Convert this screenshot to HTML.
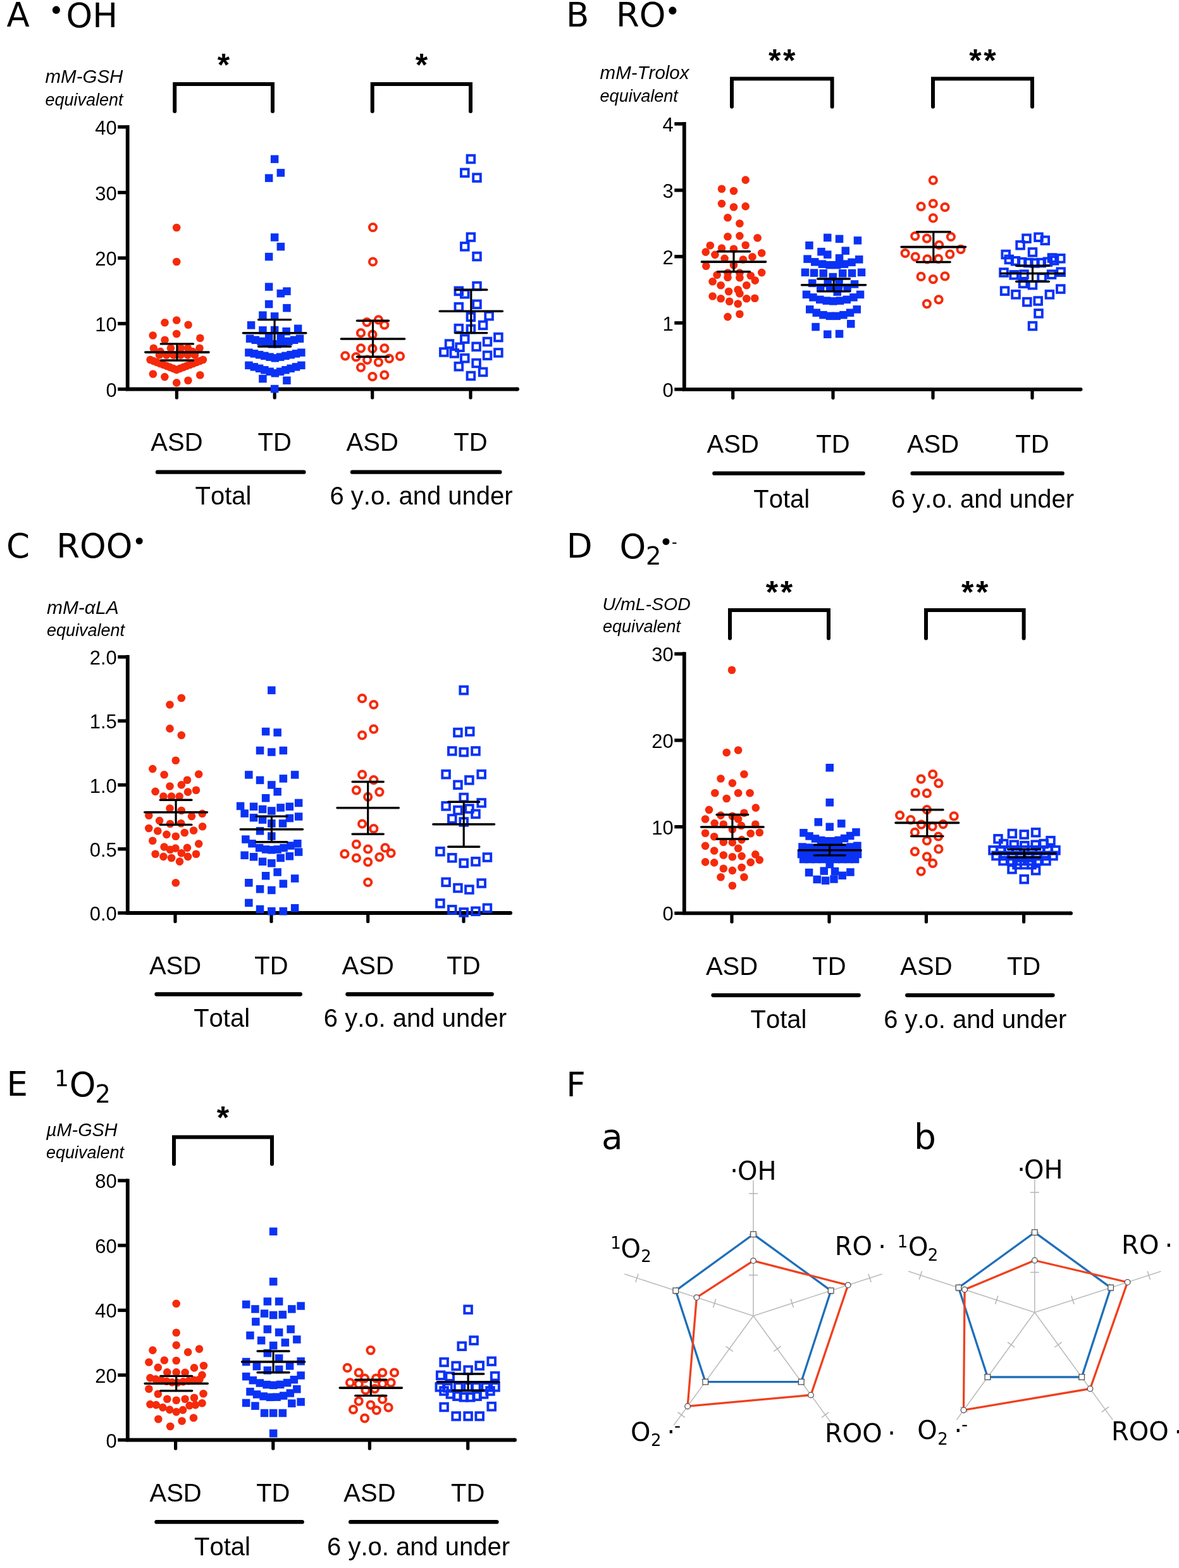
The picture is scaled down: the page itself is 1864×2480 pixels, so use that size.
<!DOCTYPE html>
<html><head><meta charset="utf-8"><title>Figure</title>
<style>html,body{margin:0;padding:0;background:#fff;} svg{display:block;} text{font-kerning:none;}</style>
</head><body>
<svg width="1864" height="2480" viewBox="0 0 1864 2480">
<rect width="1864" height="2480" fill="#fff"/>
<path d="M201.7,197.9 L201.7,615.5 L818.1,615.5" fill="none" stroke="#000" stroke-width="5.8" stroke-linejoin="miter"/>
<line x1="818.0" y1="615.5" x2="818.1" y2="615.5" stroke="#000" stroke-width="5.8" stroke-linecap="round"/>
<line x1="186.2" y1="615.5" x2="201.7" y2="615.5" stroke="#000" stroke-width="5.4" stroke-linecap="butt"/>
<text x="184.7" y="627.5" font-size="31" text-anchor="end" font-family="'Liberation Sans', Arial, sans-serif" font-weight="normal" font-style="normal" fill="#000" >0</text>
<line x1="186.2" y1="511.8" x2="201.7" y2="511.8" stroke="#000" stroke-width="5.4" stroke-linecap="butt"/>
<text x="184.7" y="523.8" font-size="31" text-anchor="end" font-family="'Liberation Sans', Arial, sans-serif" font-weight="normal" font-style="normal" fill="#000" >10</text>
<line x1="186.2" y1="408.1" x2="201.7" y2="408.1" stroke="#000" stroke-width="5.4" stroke-linecap="butt"/>
<text x="184.7" y="420.1" font-size="31" text-anchor="end" font-family="'Liberation Sans', Arial, sans-serif" font-weight="normal" font-style="normal" fill="#000" >20</text>
<line x1="186.2" y1="304.5" x2="201.7" y2="304.5" stroke="#000" stroke-width="5.4" stroke-linecap="butt"/>
<text x="184.7" y="316.5" font-size="31" text-anchor="end" font-family="'Liberation Sans', Arial, sans-serif" font-weight="normal" font-style="normal" fill="#000" >30</text>
<line x1="186.2" y1="200.8" x2="201.7" y2="200.8" stroke="#000" stroke-width="5.4" stroke-linecap="butt"/>
<text x="184.7" y="212.8" font-size="31" text-anchor="end" font-family="'Liberation Sans', Arial, sans-serif" font-weight="normal" font-style="normal" fill="#000" >40</text>
<line x1="279.4" y1="615.5" x2="279.4" y2="629.0" stroke="#000" stroke-width="5.2" stroke-linecap="round"/>
<line x1="434.2" y1="615.5" x2="434.2" y2="629.0" stroke="#000" stroke-width="5.2" stroke-linecap="round"/>
<line x1="588.7" y1="615.5" x2="588.7" y2="629.0" stroke="#000" stroke-width="5.2" stroke-linecap="round"/>
<line x1="744.0" y1="615.5" x2="744.0" y2="629.0" stroke="#000" stroke-width="5.2" stroke-linecap="round"/>
<path d="M276.2,176.0 L276.2,132.9 L431.0,132.9 L431.0,176.0" fill="none" stroke="#000" stroke-width="6" stroke-linejoin="miter" stroke-linecap="round"/>
<text x="353.6" y="119.5" font-size="50" text-anchor="middle" font-family="'Liberation Sans', Arial, sans-serif" font-weight="bold" font-style="normal" fill="#000" >*</text>
<path d="M588.7,176.0 L588.7,132.9 L744.0,132.9 L744.0,176.0" fill="none" stroke="#000" stroke-width="6" stroke-linejoin="miter" stroke-linecap="round"/>
<text x="666.4" y="119.5" font-size="50" text-anchor="middle" font-family="'Liberation Sans', Arial, sans-serif" font-weight="bold" font-style="normal" fill="#000" >*</text>
<text x="71.5" y="131.3" font-size="29.5" text-anchor="start" font-family="'Liberation Sans', Arial, sans-serif" font-weight="normal" font-style="italic" fill="#000" >mM-GSH</text>
<text x="71.5" y="167.0" font-size="27" text-anchor="start" font-family="'Liberation Sans', Arial, sans-serif" font-weight="normal" font-style="italic" fill="#000" >equivalent</text>
<text x="279.4" y="712.9" font-size="40" text-anchor="middle" font-family="'Liberation Sans', Arial, sans-serif" font-weight="normal" font-style="normal" fill="#000" >ASD</text>
<text x="434.2" y="712.9" font-size="40" text-anchor="middle" font-family="'Liberation Sans', Arial, sans-serif" font-weight="normal" font-style="normal" fill="#000" >TD</text>
<text x="588.7" y="712.9" font-size="40" text-anchor="middle" font-family="'Liberation Sans', Arial, sans-serif" font-weight="normal" font-style="normal" fill="#000" >ASD</text>
<text x="744.0" y="712.9" font-size="40" text-anchor="middle" font-family="'Liberation Sans', Arial, sans-serif" font-weight="normal" font-style="normal" fill="#000" >TD</text>
<line x1="249.0" y1="746.7" x2="480.4" y2="746.7" stroke="#000" stroke-width="6.3" stroke-linecap="round"/>
<line x1="557.0" y1="746.7" x2="790.3" y2="746.7" stroke="#000" stroke-width="6.3" stroke-linecap="round"/>
<text x="353.0" y="798.4" font-size="40" text-anchor="middle" font-family="'Liberation Sans', Arial, sans-serif" font-weight="normal" font-style="normal" fill="#000" >Total</text>
<text x="666.0" y="798.4" font-size="40" text-anchor="middle" font-family="'Liberation Sans', Arial, sans-serif" font-weight="normal" font-style="normal" fill="#000" >6 y.o. and under</text>
<circle cx="279.2" cy="360.0" r="6.3" fill="#f52a0a"/>
<circle cx="279.2" cy="414.0" r="6.3" fill="#f52a0a"/>
<circle cx="260.5" cy="510.3" r="6.3" fill="#f52a0a"/>
<circle cx="279.2" cy="506.5" r="6.3" fill="#f52a0a"/>
<circle cx="297.6" cy="513.8" r="6.3" fill="#f52a0a"/>
<circle cx="241.7" cy="530.5" r="6.3" fill="#f52a0a"/>
<circle cx="279.2" cy="528.0" r="6.3" fill="#f52a0a"/>
<circle cx="316.4" cy="534.8" r="6.3" fill="#f52a0a"/>
<circle cx="260.6" cy="537.8" r="6.3" fill="#f52a0a"/>
<circle cx="242.8" cy="550.7" r="6.3" fill="#f52a0a"/>
<circle cx="270.0" cy="550.7" r="6.3" fill="#f52a0a"/>
<circle cx="286.0" cy="550.7" r="6.3" fill="#f52a0a"/>
<circle cx="297.0" cy="550.7" r="6.3" fill="#f52a0a"/>
<circle cx="315.5" cy="550.7" r="6.3" fill="#f52a0a"/>
<circle cx="253.4" cy="556.0" r="6.3" fill="#f52a0a"/>
<circle cx="304.4" cy="556.0" r="6.3" fill="#f52a0a"/>
<circle cx="252.0" cy="561.5" r="6.3" fill="#f52a0a"/>
<circle cx="263.2" cy="561.5" r="6.3" fill="#f52a0a"/>
<circle cx="274.4" cy="561.5" r="6.3" fill="#f52a0a"/>
<circle cx="285.6" cy="561.5" r="6.3" fill="#f52a0a"/>
<circle cx="296.8" cy="561.5" r="6.3" fill="#f52a0a"/>
<circle cx="308.0" cy="561.5" r="6.3" fill="#f52a0a"/>
<circle cx="237.6" cy="569.0" r="6.3" fill="#f52a0a"/>
<circle cx="242.8" cy="571.0" r="6.3" fill="#f52a0a"/>
<circle cx="248.0" cy="573.0" r="6.3" fill="#f52a0a"/>
<circle cx="253.2" cy="575.0" r="6.3" fill="#f52a0a"/>
<circle cx="258.4" cy="577.0" r="6.3" fill="#f52a0a"/>
<circle cx="263.6" cy="578.9" r="6.3" fill="#f52a0a"/>
<circle cx="268.8" cy="580.9" r="6.3" fill="#f52a0a"/>
<circle cx="274.0" cy="582.9" r="6.3" fill="#f52a0a"/>
<circle cx="279.2" cy="584.9" r="6.3" fill="#f52a0a"/>
<circle cx="284.5" cy="582.9" r="6.3" fill="#f52a0a"/>
<circle cx="289.7" cy="580.9" r="6.3" fill="#f52a0a"/>
<circle cx="294.9" cy="578.9" r="6.3" fill="#f52a0a"/>
<circle cx="300.1" cy="577.0" r="6.3" fill="#f52a0a"/>
<circle cx="305.3" cy="575.0" r="6.3" fill="#f52a0a"/>
<circle cx="310.5" cy="573.0" r="6.3" fill="#f52a0a"/>
<circle cx="315.7" cy="571.0" r="6.3" fill="#f52a0a"/>
<circle cx="320.9" cy="569.0" r="6.3" fill="#f52a0a"/>
<circle cx="241.9" cy="591.5" r="6.3" fill="#f52a0a"/>
<circle cx="260.4" cy="596.1" r="6.3" fill="#f52a0a"/>
<circle cx="279.2" cy="605.4" r="6.3" fill="#f52a0a"/>
<circle cx="297.4" cy="601.8" r="6.3" fill="#f52a0a"/>
<circle cx="316.3" cy="593.2" r="6.3" fill="#f52a0a"/>
<rect x="427.9" y="245.4" width="12.5" height="12.5" fill="#0a32f5"/>
<rect x="437.6" y="267.1" width="12.5" height="12.5" fill="#0a32f5"/>
<rect x="418.9" y="275.4" width="12.5" height="12.5" fill="#0a32f5"/>
<rect x="427.9" y="369.2" width="12.5" height="12.5" fill="#0a32f5"/>
<rect x="437.6" y="383.9" width="12.5" height="12.5" fill="#0a32f5"/>
<rect x="418.9" y="399.8" width="12.5" height="12.5" fill="#0a32f5"/>
<rect x="418.9" y="447.4" width="12.5" height="12.5" fill="#0a32f5"/>
<rect x="447.2" y="454.4" width="12.5" height="12.5" fill="#0a32f5"/>
<rect x="437.6" y="457.9" width="12.5" height="12.5" fill="#0a32f5"/>
<rect x="418.9" y="474.8" width="12.5" height="12.5" fill="#0a32f5"/>
<rect x="447.2" y="480.9" width="12.5" height="12.5" fill="#0a32f5"/>
<rect x="409.2" y="492.4" width="12.5" height="12.5" fill="#0a32f5"/>
<rect x="427.9" y="494.1" width="12.5" height="12.5" fill="#0a32f5"/>
<rect x="390.8" y="508.1" width="12.5" height="12.5" fill="#0a32f5"/>
<rect x="409.2" y="516.1" width="12.5" height="12.5" fill="#0a32f5"/>
<rect x="446.4" y="517.9" width="12.5" height="12.5" fill="#0a32f5"/>
<rect x="464.9" y="513.5" width="12.5" height="12.5" fill="#0a32f5"/>
<rect x="427.9" y="515.8" width="12.5" height="12.5" fill="#0a32f5"/>
<rect x="418.9" y="526.8" width="12.5" height="12.5" fill="#0a32f5"/>
<rect x="437.6" y="526.8" width="12.5" height="12.5" fill="#0a32f5"/>
<rect x="388.8" y="529.4" width="12.5" height="12.5" fill="#0a32f5"/>
<rect x="397.6" y="531.5" width="12.5" height="12.5" fill="#0a32f5"/>
<rect x="406.4" y="533.6" width="12.5" height="12.5" fill="#0a32f5"/>
<rect x="415.1" y="535.9" width="12.5" height="12.5" fill="#0a32f5"/>
<rect x="423.9" y="538.0" width="12.5" height="12.5" fill="#0a32f5"/>
<rect x="432.6" y="538.0" width="12.5" height="12.5" fill="#0a32f5"/>
<rect x="441.4" y="535.9" width="12.5" height="12.5" fill="#0a32f5"/>
<rect x="450.1" y="533.6" width="12.5" height="12.5" fill="#0a32f5"/>
<rect x="458.9" y="531.5" width="12.5" height="12.5" fill="#0a32f5"/>
<rect x="467.8" y="529.4" width="12.5" height="12.5" fill="#0a32f5"/>
<rect x="387.2" y="551.4" width="12.5" height="12.5" fill="#0a32f5"/>
<rect x="395.6" y="553.1" width="12.5" height="12.5" fill="#0a32f5"/>
<rect x="403.9" y="554.9" width="12.5" height="12.5" fill="#0a32f5"/>
<rect x="412.1" y="556.6" width="12.5" height="12.5" fill="#0a32f5"/>
<rect x="420.4" y="558.4" width="12.5" height="12.5" fill="#0a32f5"/>
<rect x="428.6" y="560.1" width="12.5" height="12.5" fill="#0a32f5"/>
<rect x="436.9" y="558.4" width="12.5" height="12.5" fill="#0a32f5"/>
<rect x="445.2" y="556.6" width="12.5" height="12.5" fill="#0a32f5"/>
<rect x="453.4" y="554.9" width="12.5" height="12.5" fill="#0a32f5"/>
<rect x="461.8" y="553.1" width="12.5" height="12.5" fill="#0a32f5"/>
<rect x="470.1" y="551.4" width="12.5" height="12.5" fill="#0a32f5"/>
<rect x="387.2" y="571.6" width="12.5" height="12.5" fill="#0a32f5"/>
<rect x="395.6" y="574.1" width="12.5" height="12.5" fill="#0a32f5"/>
<rect x="403.9" y="576.5" width="12.5" height="12.5" fill="#0a32f5"/>
<rect x="412.1" y="579.0" width="12.5" height="12.5" fill="#0a32f5"/>
<rect x="420.4" y="581.5" width="12.5" height="12.5" fill="#0a32f5"/>
<rect x="428.6" y="584.0" width="12.5" height="12.5" fill="#0a32f5"/>
<rect x="436.9" y="581.5" width="12.5" height="12.5" fill="#0a32f5"/>
<rect x="445.2" y="579.0" width="12.5" height="12.5" fill="#0a32f5"/>
<rect x="453.4" y="576.5" width="12.5" height="12.5" fill="#0a32f5"/>
<rect x="461.8" y="574.1" width="12.5" height="12.5" fill="#0a32f5"/>
<rect x="470.1" y="571.6" width="12.5" height="12.5" fill="#0a32f5"/>
<rect x="409.2" y="592.8" width="12.5" height="12.5" fill="#0a32f5"/>
<rect x="447.2" y="595.5" width="12.5" height="12.5" fill="#0a32f5"/>
<rect x="427.9" y="608.8" width="12.5" height="12.5" fill="#0a32f5"/>
<circle cx="589.5" cy="359.6" r="5.6" fill="none" stroke="#f52a0a" stroke-width="4"/>
<circle cx="589.5" cy="414.0" r="5.6" fill="none" stroke="#f52a0a" stroke-width="4"/>
<circle cx="580.0" cy="509.6" r="5.6" fill="none" stroke="#f52a0a" stroke-width="4"/>
<circle cx="598.4" cy="505.8" r="5.6" fill="none" stroke="#f52a0a" stroke-width="4"/>
<circle cx="607.8" cy="514.0" r="5.6" fill="none" stroke="#f52a0a" stroke-width="4"/>
<circle cx="570.5" cy="526.7" r="5.6" fill="none" stroke="#f52a0a" stroke-width="4"/>
<circle cx="588.9" cy="529.2" r="5.6" fill="none" stroke="#f52a0a" stroke-width="4"/>
<circle cx="570.5" cy="550.8" r="5.6" fill="none" stroke="#f52a0a" stroke-width="4"/>
<circle cx="588.9" cy="551.4" r="5.6" fill="none" stroke="#f52a0a" stroke-width="4"/>
<circle cx="607.8" cy="550.8" r="5.6" fill="none" stroke="#f52a0a" stroke-width="4"/>
<circle cx="545.8" cy="562.8" r="5.6" fill="none" stroke="#f52a0a" stroke-width="4"/>
<circle cx="562.9" cy="564.7" r="5.6" fill="none" stroke="#f52a0a" stroke-width="4"/>
<circle cx="580.6" cy="569.1" r="5.6" fill="none" stroke="#f52a0a" stroke-width="4"/>
<circle cx="598.4" cy="572.9" r="5.6" fill="none" stroke="#f52a0a" stroke-width="4"/>
<circle cx="615.4" cy="567.2" r="5.6" fill="none" stroke="#f52a0a" stroke-width="4"/>
<circle cx="632.5" cy="563.4" r="5.6" fill="none" stroke="#f52a0a" stroke-width="4"/>
<circle cx="570.5" cy="581.1" r="5.6" fill="none" stroke="#f52a0a" stroke-width="4"/>
<circle cx="588.9" cy="595.7" r="5.6" fill="none" stroke="#f52a0a" stroke-width="4"/>
<circle cx="607.8" cy="593.2" r="5.6" fill="none" stroke="#f52a0a" stroke-width="4"/>
<rect x="738.6" y="245.7" width="11.6" height="11.6" fill="none" stroke="#0a32f5" stroke-width="3.9"/>
<rect x="729.0" y="267.5" width="11.6" height="11.6" fill="none" stroke="#0a32f5" stroke-width="3.9"/>
<rect x="748.2" y="275.3" width="11.6" height="11.6" fill="none" stroke="#0a32f5" stroke-width="3.9"/>
<rect x="738.6" y="369.3" width="11.6" height="11.6" fill="none" stroke="#0a32f5" stroke-width="3.9"/>
<rect x="729.0" y="384.1" width="11.6" height="11.6" fill="none" stroke="#0a32f5" stroke-width="3.9"/>
<rect x="748.2" y="399.8" width="11.6" height="11.6" fill="none" stroke="#0a32f5" stroke-width="3.9"/>
<rect x="748.2" y="446.8" width="11.6" height="11.6" fill="none" stroke="#0a32f5" stroke-width="3.9"/>
<rect x="719.5" y="454.6" width="11.6" height="11.6" fill="none" stroke="#0a32f5" stroke-width="3.9"/>
<rect x="729.0" y="459.0" width="11.6" height="11.6" fill="none" stroke="#0a32f5" stroke-width="3.9"/>
<rect x="748.2" y="475.5" width="11.6" height="11.6" fill="none" stroke="#0a32f5" stroke-width="3.9"/>
<rect x="719.5" y="479.9" width="11.6" height="11.6" fill="none" stroke="#0a32f5" stroke-width="3.9"/>
<rect x="738.6" y="495.5" width="11.6" height="11.6" fill="none" stroke="#0a32f5" stroke-width="3.9"/>
<rect x="767.3" y="493.8" width="11.6" height="11.6" fill="none" stroke="#0a32f5" stroke-width="3.9"/>
<rect x="757.8" y="508.6" width="11.6" height="11.6" fill="none" stroke="#0a32f5" stroke-width="3.9"/>
<rect x="719.5" y="513.8" width="11.6" height="11.6" fill="none" stroke="#0a32f5" stroke-width="3.9"/>
<rect x="738.6" y="514.7" width="11.6" height="11.6" fill="none" stroke="#0a32f5" stroke-width="3.9"/>
<rect x="729.0" y="530.3" width="11.6" height="11.6" fill="none" stroke="#0a32f5" stroke-width="3.9"/>
<rect x="782.1" y="527.7" width="11.6" height="11.6" fill="none" stroke="#0a32f5" stroke-width="3.9"/>
<rect x="704.7" y="538.2" width="11.6" height="11.6" fill="none" stroke="#0a32f5" stroke-width="3.9"/>
<rect x="764.7" y="534.7" width="11.6" height="11.6" fill="none" stroke="#0a32f5" stroke-width="3.9"/>
<rect x="721.2" y="543.4" width="11.6" height="11.6" fill="none" stroke="#0a32f5" stroke-width="3.9"/>
<rect x="747.3" y="542.5" width="11.6" height="11.6" fill="none" stroke="#0a32f5" stroke-width="3.9"/>
<rect x="696.0" y="551.2" width="11.6" height="11.6" fill="none" stroke="#0a32f5" stroke-width="3.9"/>
<rect x="712.5" y="553.0" width="11.6" height="11.6" fill="none" stroke="#0a32f5" stroke-width="3.9"/>
<rect x="782.1" y="552.1" width="11.6" height="11.6" fill="none" stroke="#0a32f5" stroke-width="3.9"/>
<rect x="764.7" y="556.4" width="11.6" height="11.6" fill="none" stroke="#0a32f5" stroke-width="3.9"/>
<rect x="729.0" y="560.8" width="11.6" height="11.6" fill="none" stroke="#0a32f5" stroke-width="3.9"/>
<rect x="719.5" y="573.8" width="11.6" height="11.6" fill="none" stroke="#0a32f5" stroke-width="3.9"/>
<rect x="747.3" y="568.6" width="11.6" height="11.6" fill="none" stroke="#0a32f5" stroke-width="3.9"/>
<rect x="757.8" y="582.6" width="11.6" height="11.6" fill="none" stroke="#0a32f5" stroke-width="3.9"/>
<rect x="738.6" y="588.7" width="11.6" height="11.6" fill="none" stroke="#0a32f5" stroke-width="3.9"/>
<line x1="229.8" y1="557.1" x2="330.0" y2="557.1" stroke="#000" stroke-width="3.6" stroke-linecap="round"/>
<line x1="279.9" y1="543.9" x2="279.9" y2="570.0" stroke="#000" stroke-width="3.2" stroke-linecap="butt"/>
<line x1="254.3" y1="543.9" x2="305.5" y2="543.9" stroke="#000" stroke-width="3.4" stroke-linecap="round"/>
<line x1="254.3" y1="570.0" x2="305.5" y2="570.0" stroke="#000" stroke-width="3.4" stroke-linecap="round"/>
<line x1="384.4" y1="526.8" x2="483.8" y2="526.8" stroke="#000" stroke-width="3.6" stroke-linecap="round"/>
<line x1="434.1" y1="505.6" x2="434.1" y2="548.0" stroke="#000" stroke-width="3.2" stroke-linecap="butt"/>
<line x1="408.6" y1="505.6" x2="459.6" y2="505.6" stroke="#000" stroke-width="3.4" stroke-linecap="round"/>
<line x1="408.6" y1="548.0" x2="459.6" y2="548.0" stroke="#000" stroke-width="3.4" stroke-linecap="round"/>
<line x1="539.4" y1="536.0" x2="639.6" y2="536.0" stroke="#000" stroke-width="3.6" stroke-linecap="round"/>
<line x1="589.5" y1="507.3" x2="589.5" y2="564.3" stroke="#000" stroke-width="3.2" stroke-linecap="butt"/>
<line x1="564.5" y1="507.3" x2="614.5" y2="507.3" stroke="#000" stroke-width="3.4" stroke-linecap="round"/>
<line x1="564.5" y1="564.3" x2="614.5" y2="564.3" stroke="#000" stroke-width="3.4" stroke-linecap="round"/>
<line x1="695.3" y1="492.3" x2="794.3" y2="492.3" stroke="#000" stroke-width="3.6" stroke-linecap="round"/>
<line x1="744.8" y1="458.3" x2="744.8" y2="526.6" stroke="#000" stroke-width="3.2" stroke-linecap="butt"/>
<line x1="719.8" y1="458.3" x2="769.8" y2="458.3" stroke="#000" stroke-width="3.4" stroke-linecap="round"/>
<line x1="719.8" y1="526.6" x2="769.8" y2="526.6" stroke="#000" stroke-width="3.4" stroke-linecap="round"/>
<path d="M1081.8,193.0 L1081.8,615.8 L1708.6,615.8" fill="none" stroke="#000" stroke-width="5.8" stroke-linejoin="miter"/>
<line x1="1708.5" y1="615.8" x2="1708.6" y2="615.8" stroke="#000" stroke-width="5.8" stroke-linecap="round"/>
<line x1="1066.3" y1="615.8" x2="1081.8" y2="615.8" stroke="#000" stroke-width="5.4" stroke-linecap="butt"/>
<text x="1064.8" y="627.8" font-size="31" text-anchor="end" font-family="'Liberation Sans', Arial, sans-serif" font-weight="normal" font-style="normal" fill="#000" >0</text>
<line x1="1066.3" y1="510.8" x2="1081.8" y2="510.8" stroke="#000" stroke-width="5.4" stroke-linecap="butt"/>
<text x="1064.8" y="522.8" font-size="31" text-anchor="end" font-family="'Liberation Sans', Arial, sans-serif" font-weight="normal" font-style="normal" fill="#000" >1</text>
<line x1="1066.3" y1="405.8" x2="1081.8" y2="405.8" stroke="#000" stroke-width="5.4" stroke-linecap="butt"/>
<text x="1064.8" y="417.8" font-size="31" text-anchor="end" font-family="'Liberation Sans', Arial, sans-serif" font-weight="normal" font-style="normal" fill="#000" >2</text>
<line x1="1066.3" y1="300.9" x2="1081.8" y2="300.9" stroke="#000" stroke-width="5.4" stroke-linecap="butt"/>
<text x="1064.8" y="312.9" font-size="31" text-anchor="end" font-family="'Liberation Sans', Arial, sans-serif" font-weight="normal" font-style="normal" fill="#000" >3</text>
<line x1="1066.3" y1="195.9" x2="1081.8" y2="195.9" stroke="#000" stroke-width="5.4" stroke-linecap="butt"/>
<text x="1064.8" y="207.9" font-size="31" text-anchor="end" font-family="'Liberation Sans', Arial, sans-serif" font-weight="normal" font-style="normal" fill="#000" >4</text>
<line x1="1158.7" y1="615.8" x2="1158.7" y2="629.3" stroke="#000" stroke-width="5.2" stroke-linecap="round"/>
<line x1="1317.0" y1="615.8" x2="1317.0" y2="629.3" stroke="#000" stroke-width="5.2" stroke-linecap="round"/>
<line x1="1475.0" y1="615.8" x2="1475.0" y2="629.3" stroke="#000" stroke-width="5.2" stroke-linecap="round"/>
<line x1="1632.0" y1="615.8" x2="1632.0" y2="629.3" stroke="#000" stroke-width="5.2" stroke-linecap="round"/>
<path d="M1157.0,168.8 L1157.0,124.5 L1315.6,124.5 L1315.6,168.8" fill="none" stroke="#000" stroke-width="6" stroke-linejoin="miter" stroke-linecap="round"/>
<text x="1238.1" y="112.8" font-size="50" text-anchor="middle" font-family="'Liberation Sans', Arial, sans-serif" font-weight="bold" font-style="normal" fill="#000" letter-spacing="3.6">**</text>
<path d="M1475.0,168.8 L1475.0,124.5 L1632.0,124.5 L1632.0,168.8" fill="none" stroke="#000" stroke-width="6" stroke-linejoin="miter" stroke-linecap="round"/>
<text x="1555.3" y="112.8" font-size="50" text-anchor="middle" font-family="'Liberation Sans', Arial, sans-serif" font-weight="bold" font-style="normal" fill="#000" letter-spacing="3.6">**</text>
<text x="948.6" y="124.8" font-size="29.5" text-anchor="start" font-family="'Liberation Sans', Arial, sans-serif" font-weight="normal" font-style="italic" fill="#000" >mM-Trolox</text>
<text x="948.6" y="161.0" font-size="27" text-anchor="start" font-family="'Liberation Sans', Arial, sans-serif" font-weight="normal" font-style="italic" fill="#000" >equivalent</text>
<text x="1158.7" y="715.6" font-size="40" text-anchor="middle" font-family="'Liberation Sans', Arial, sans-serif" font-weight="normal" font-style="normal" fill="#000" >ASD</text>
<text x="1317.0" y="715.6" font-size="40" text-anchor="middle" font-family="'Liberation Sans', Arial, sans-serif" font-weight="normal" font-style="normal" fill="#000" >TD</text>
<text x="1475.0" y="715.6" font-size="40" text-anchor="middle" font-family="'Liberation Sans', Arial, sans-serif" font-weight="normal" font-style="normal" fill="#000" >ASD</text>
<text x="1632.0" y="715.6" font-size="40" text-anchor="middle" font-family="'Liberation Sans', Arial, sans-serif" font-weight="normal" font-style="normal" fill="#000" >TD</text>
<line x1="1129.4" y1="748.7" x2="1364.7" y2="748.7" stroke="#000" stroke-width="6.3" stroke-linecap="round"/>
<line x1="1442.6" y1="748.7" x2="1679.7" y2="748.7" stroke="#000" stroke-width="6.3" stroke-linecap="round"/>
<text x="1235.8" y="802.7" font-size="40" text-anchor="middle" font-family="'Liberation Sans', Arial, sans-serif" font-weight="normal" font-style="normal" fill="#000" >Total</text>
<text x="1553.5" y="802.7" font-size="40" text-anchor="middle" font-family="'Liberation Sans', Arial, sans-serif" font-weight="normal" font-style="normal" fill="#000" >6 y.o. and under</text>
<circle cx="1178.7" cy="284.6" r="6.3" fill="#f52a0a"/>
<circle cx="1141.0" cy="298.8" r="6.3" fill="#f52a0a"/>
<circle cx="1160.0" cy="302.0" r="6.3" fill="#f52a0a"/>
<circle cx="1141.0" cy="322.1" r="6.3" fill="#f52a0a"/>
<circle cx="1160.0" cy="327.5" r="6.3" fill="#f52a0a"/>
<circle cx="1178.7" cy="326.4" r="6.3" fill="#f52a0a"/>
<circle cx="1150.5" cy="344.3" r="6.3" fill="#f52a0a"/>
<circle cx="1169.4" cy="353.5" r="6.3" fill="#f52a0a"/>
<circle cx="1150.5" cy="374.2" r="6.3" fill="#f52a0a"/>
<circle cx="1169.4" cy="373.1" r="6.3" fill="#f52a0a"/>
<circle cx="1197.6" cy="376.3" r="6.3" fill="#f52a0a"/>
<circle cx="1122.8" cy="388.3" r="6.3" fill="#f52a0a"/>
<circle cx="1178.7" cy="387.7" r="6.3" fill="#f52a0a"/>
<circle cx="1141.0" cy="392.6" r="6.3" fill="#f52a0a"/>
<circle cx="1160.0" cy="393.7" r="6.3" fill="#f52a0a"/>
<circle cx="1115.7" cy="398.6" r="6.3" fill="#f52a0a"/>
<circle cx="1204.2" cy="400.2" r="6.3" fill="#f52a0a"/>
<circle cx="1130.4" cy="402.9" r="6.3" fill="#f52a0a"/>
<circle cx="1189.5" cy="406.2" r="6.3" fill="#f52a0a"/>
<circle cx="1145.6" cy="408.9" r="6.3" fill="#f52a0a"/>
<circle cx="1174.9" cy="410.5" r="6.3" fill="#f52a0a"/>
<circle cx="1116.3" cy="420.8" r="6.3" fill="#f52a0a"/>
<circle cx="1160.0" cy="419.2" r="6.3" fill="#f52a0a"/>
<circle cx="1133.6" cy="434.9" r="6.3" fill="#f52a0a"/>
<circle cx="1150.5" cy="431.5" r="6.3" fill="#f52a0a"/>
<circle cx="1150.5" cy="438.7" r="6.3" fill="#f52a0a"/>
<circle cx="1169.4" cy="431.5" r="6.3" fill="#f52a0a"/>
<circle cx="1169.4" cy="439.3" r="6.3" fill="#f52a0a"/>
<circle cx="1186.8" cy="436.0" r="6.3" fill="#f52a0a"/>
<circle cx="1204.2" cy="431.1" r="6.3" fill="#f52a0a"/>
<circle cx="1126.6" cy="445.2" r="6.3" fill="#f52a0a"/>
<circle cx="1193.8" cy="443.6" r="6.3" fill="#f52a0a"/>
<circle cx="1139.6" cy="451.2" r="6.3" fill="#f52a0a"/>
<circle cx="1180.3" cy="451.2" r="6.3" fill="#f52a0a"/>
<circle cx="1152.1" cy="461.0" r="6.3" fill="#f52a0a"/>
<circle cx="1166.7" cy="458.2" r="6.3" fill="#f52a0a"/>
<circle cx="1169.4" cy="464.2" r="6.3" fill="#f52a0a"/>
<circle cx="1126.6" cy="468.5" r="6.3" fill="#f52a0a"/>
<circle cx="1139.6" cy="472.3" r="6.3" fill="#f52a0a"/>
<circle cx="1153.2" cy="476.7" r="6.3" fill="#f52a0a"/>
<circle cx="1166.7" cy="480.5" r="6.3" fill="#f52a0a"/>
<circle cx="1180.3" cy="472.3" r="6.3" fill="#f52a0a"/>
<circle cx="1193.3" cy="471.8" r="6.3" fill="#f52a0a"/>
<circle cx="1169.4" cy="496.8" r="6.3" fill="#f52a0a"/>
<circle cx="1150.5" cy="501.1" r="6.3" fill="#f52a0a"/>
<rect x="1302.0" y="369.6" width="12.5" height="12.5" fill="#0a32f5"/>
<rect x="1320.8" y="371.6" width="12.5" height="12.5" fill="#0a32f5"/>
<rect x="1349.7" y="374.1" width="12.5" height="12.5" fill="#0a32f5"/>
<rect x="1273.2" y="381.9" width="12.5" height="12.5" fill="#0a32f5"/>
<rect x="1292.2" y="391.9" width="12.5" height="12.5" fill="#0a32f5"/>
<rect x="1302.0" y="396.4" width="12.5" height="12.5" fill="#0a32f5"/>
<rect x="1330.5" y="390.4" width="12.5" height="12.5" fill="#0a32f5"/>
<rect x="1320.8" y="402.1" width="12.5" height="12.5" fill="#0a32f5"/>
<rect x="1270.3" y="403.4" width="12.5" height="12.5" fill="#0a32f5"/>
<rect x="1282.0" y="408.1" width="12.5" height="12.5" fill="#0a32f5"/>
<rect x="1293.7" y="411.4" width="12.5" height="12.5" fill="#0a32f5"/>
<rect x="1305.3" y="412.9" width="12.5" height="12.5" fill="#0a32f5"/>
<rect x="1317.0" y="412.9" width="12.5" height="12.5" fill="#0a32f5"/>
<rect x="1328.8" y="411.4" width="12.5" height="12.5" fill="#0a32f5"/>
<rect x="1340.3" y="408.6" width="12.5" height="12.5" fill="#0a32f5"/>
<rect x="1352.0" y="404.1" width="12.5" height="12.5" fill="#0a32f5"/>
<rect x="1266.7" y="424.6" width="12.5" height="12.5" fill="#0a32f5"/>
<rect x="1280.8" y="425.4" width="12.5" height="12.5" fill="#0a32f5"/>
<rect x="1295.5" y="426.1" width="12.5" height="12.5" fill="#0a32f5"/>
<rect x="1310.5" y="431.8" width="12.5" height="12.5" fill="#0a32f5"/>
<rect x="1326.0" y="426.1" width="12.5" height="12.5" fill="#0a32f5"/>
<rect x="1340.8" y="425.8" width="12.5" height="12.5" fill="#0a32f5"/>
<rect x="1355.8" y="424.6" width="12.5" height="12.5" fill="#0a32f5"/>
<rect x="1278.0" y="441.6" width="12.5" height="12.5" fill="#0a32f5"/>
<rect x="1302.5" y="441.6" width="12.5" height="12.5" fill="#0a32f5"/>
<rect x="1320.3" y="442.1" width="12.5" height="12.5" fill="#0a32f5"/>
<rect x="1344.8" y="443.2" width="12.5" height="12.5" fill="#0a32f5"/>
<rect x="1291.0" y="448.6" width="12.5" height="12.5" fill="#0a32f5"/>
<rect x="1305.8" y="448.6" width="12.5" height="12.5" fill="#0a32f5"/>
<rect x="1319.5" y="449.4" width="12.5" height="12.5" fill="#0a32f5"/>
<rect x="1333.3" y="448.6" width="12.5" height="12.5" fill="#0a32f5"/>
<rect x="1317.5" y="455.4" width="12.5" height="12.5" fill="#0a32f5"/>
<rect x="1268.7" y="459.6" width="12.5" height="12.5" fill="#0a32f5"/>
<rect x="1279.2" y="464.1" width="12.5" height="12.5" fill="#0a32f5"/>
<rect x="1290.0" y="467.6" width="12.5" height="12.5" fill="#0a32f5"/>
<rect x="1300.5" y="469.4" width="12.5" height="12.5" fill="#0a32f5"/>
<rect x="1311.2" y="470.1" width="12.5" height="12.5" fill="#0a32f5"/>
<rect x="1321.8" y="469.4" width="12.5" height="12.5" fill="#0a32f5"/>
<rect x="1332.5" y="467.6" width="12.5" height="12.5" fill="#0a32f5"/>
<rect x="1343.2" y="464.1" width="12.5" height="12.5" fill="#0a32f5"/>
<rect x="1353.8" y="459.6" width="12.5" height="12.5" fill="#0a32f5"/>
<rect x="1274.0" y="483.1" width="12.5" height="12.5" fill="#0a32f5"/>
<rect x="1284.5" y="488.4" width="12.5" height="12.5" fill="#0a32f5"/>
<rect x="1295.2" y="491.9" width="12.5" height="12.5" fill="#0a32f5"/>
<rect x="1305.8" y="493.6" width="12.5" height="12.5" fill="#0a32f5"/>
<rect x="1316.5" y="493.6" width="12.5" height="12.5" fill="#0a32f5"/>
<rect x="1327.2" y="491.9" width="12.5" height="12.5" fill="#0a32f5"/>
<rect x="1337.8" y="488.4" width="12.5" height="12.5" fill="#0a32f5"/>
<rect x="1348.5" y="483.1" width="12.5" height="12.5" fill="#0a32f5"/>
<rect x="1283.3" y="510.8" width="12.5" height="12.5" fill="#0a32f5"/>
<rect x="1339.0" y="506.0" width="12.5" height="12.5" fill="#0a32f5"/>
<rect x="1302.0" y="522.5" width="12.5" height="12.5" fill="#0a32f5"/>
<rect x="1320.8" y="521.8" width="12.5" height="12.5" fill="#0a32f5"/>
<circle cx="1475.3" cy="285.1" r="5.6" fill="none" stroke="#f52a0a" stroke-width="4"/>
<circle cx="1456.1" cy="326.7" r="5.6" fill="none" stroke="#f52a0a" stroke-width="4"/>
<circle cx="1475.3" cy="322.0" r="5.6" fill="none" stroke="#f52a0a" stroke-width="4"/>
<circle cx="1494.0" cy="327.7" r="5.6" fill="none" stroke="#f52a0a" stroke-width="4"/>
<circle cx="1475.3" cy="344.9" r="5.6" fill="none" stroke="#f52a0a" stroke-width="4"/>
<circle cx="1446.7" cy="373.5" r="5.6" fill="none" stroke="#f52a0a" stroke-width="4"/>
<circle cx="1465.4" cy="377.1" r="5.6" fill="none" stroke="#f52a0a" stroke-width="4"/>
<circle cx="1503.4" cy="374.5" r="5.6" fill="none" stroke="#f52a0a" stroke-width="4"/>
<circle cx="1484.7" cy="387.5" r="5.6" fill="none" stroke="#f52a0a" stroke-width="4"/>
<circle cx="1519.0" cy="394.3" r="5.6" fill="none" stroke="#f52a0a" stroke-width="4"/>
<circle cx="1431.1" cy="400.5" r="5.6" fill="none" stroke="#f52a0a" stroke-width="4"/>
<circle cx="1447.2" cy="406.2" r="5.6" fill="none" stroke="#f52a0a" stroke-width="4"/>
<circle cx="1466.0" cy="409.9" r="5.6" fill="none" stroke="#f52a0a" stroke-width="4"/>
<circle cx="1483.6" cy="409.3" r="5.6" fill="none" stroke="#f52a0a" stroke-width="4"/>
<circle cx="1501.8" cy="402.1" r="5.6" fill="none" stroke="#f52a0a" stroke-width="4"/>
<circle cx="1456.1" cy="437.4" r="5.6" fill="none" stroke="#f52a0a" stroke-width="4"/>
<circle cx="1475.3" cy="441.6" r="5.6" fill="none" stroke="#f52a0a" stroke-width="4"/>
<circle cx="1494.0" cy="436.9" r="5.6" fill="none" stroke="#f52a0a" stroke-width="4"/>
<circle cx="1484.1" cy="473.8" r="5.6" fill="none" stroke="#f52a0a" stroke-width="4"/>
<circle cx="1465.4" cy="480.6" r="5.6" fill="none" stroke="#f52a0a" stroke-width="4"/>
<rect x="1617.2" y="371.4" width="11.6" height="11.6" fill="none" stroke="#0a32f5" stroke-width="3.9"/>
<rect x="1636.2" y="369.4" width="11.6" height="11.6" fill="none" stroke="#0a32f5" stroke-width="3.9"/>
<rect x="1646.5" y="374.5" width="11.6" height="11.6" fill="none" stroke="#0a32f5" stroke-width="3.9"/>
<rect x="1607.3" y="382.0" width="11.6" height="11.6" fill="none" stroke="#0a32f5" stroke-width="3.9"/>
<rect x="1626.7" y="393.1" width="11.6" height="11.6" fill="none" stroke="#0a32f5" stroke-width="3.9"/>
<rect x="1584.4" y="396.7" width="11.6" height="11.6" fill="none" stroke="#0a32f5" stroke-width="3.9"/>
<rect x="1657.6" y="402.2" width="11.6" height="11.6" fill="none" stroke="#0a32f5" stroke-width="3.9"/>
<rect x="1589.5" y="404.6" width="11.6" height="11.6" fill="none" stroke="#0a32f5" stroke-width="3.9"/>
<rect x="1599.7" y="407.0" width="11.6" height="11.6" fill="none" stroke="#0a32f5" stroke-width="3.9"/>
<rect x="1609.9" y="408.8" width="11.6" height="11.6" fill="none" stroke="#0a32f5" stroke-width="3.9"/>
<rect x="1620.1" y="409.8" width="11.6" height="11.6" fill="none" stroke="#0a32f5" stroke-width="3.9"/>
<rect x="1630.2" y="410.2" width="11.6" height="11.6" fill="none" stroke="#0a32f5" stroke-width="3.9"/>
<rect x="1640.4" y="409.8" width="11.6" height="11.6" fill="none" stroke="#0a32f5" stroke-width="3.9"/>
<rect x="1650.6" y="408.4" width="11.6" height="11.6" fill="none" stroke="#0a32f5" stroke-width="3.9"/>
<rect x="1660.8" y="406.1" width="11.6" height="11.6" fill="none" stroke="#0a32f5" stroke-width="3.9"/>
<rect x="1671.0" y="403.0" width="11.6" height="11.6" fill="none" stroke="#0a32f5" stroke-width="3.9"/>
<rect x="1581.2" y="425.2" width="11.6" height="11.6" fill="none" stroke="#0a32f5" stroke-width="3.9"/>
<rect x="1597.4" y="429.1" width="11.6" height="11.6" fill="none" stroke="#0a32f5" stroke-width="3.9"/>
<rect x="1613.2" y="428.3" width="11.6" height="11.6" fill="none" stroke="#0a32f5" stroke-width="3.9"/>
<rect x="1641.3" y="433.1" width="11.6" height="11.6" fill="none" stroke="#0a32f5" stroke-width="3.9"/>
<rect x="1656.8" y="428.3" width="11.6" height="11.6" fill="none" stroke="#0a32f5" stroke-width="3.9"/>
<rect x="1671.4" y="424.4" width="11.6" height="11.6" fill="none" stroke="#0a32f5" stroke-width="3.9"/>
<rect x="1611.7" y="442.6" width="11.6" height="11.6" fill="none" stroke="#0a32f5" stroke-width="3.9"/>
<rect x="1626.7" y="444.9" width="11.6" height="11.6" fill="none" stroke="#0a32f5" stroke-width="3.9"/>
<rect x="1582.8" y="454.4" width="11.6" height="11.6" fill="none" stroke="#0a32f5" stroke-width="3.9"/>
<rect x="1600.2" y="460.0" width="11.6" height="11.6" fill="none" stroke="#0a32f5" stroke-width="3.9"/>
<rect x="1653.6" y="460.0" width="11.6" height="11.6" fill="none" stroke="#0a32f5" stroke-width="3.9"/>
<rect x="1671.0" y="451.3" width="11.6" height="11.6" fill="none" stroke="#0a32f5" stroke-width="3.9"/>
<rect x="1618.0" y="471.8" width="11.6" height="11.6" fill="none" stroke="#0a32f5" stroke-width="3.9"/>
<rect x="1635.4" y="470.2" width="11.6" height="11.6" fill="none" stroke="#0a32f5" stroke-width="3.9"/>
<rect x="1636.2" y="490.0" width="11.6" height="11.6" fill="none" stroke="#0a32f5" stroke-width="3.9"/>
<rect x="1626.7" y="509.8" width="11.6" height="11.6" fill="none" stroke="#0a32f5" stroke-width="3.9"/>
<line x1="1109.4" y1="414.1" x2="1210.6" y2="414.1" stroke="#000" stroke-width="3.6" stroke-linecap="round"/>
<line x1="1160.0" y1="397.8" x2="1160.0" y2="429.7" stroke="#000" stroke-width="3.2" stroke-linecap="butt"/>
<line x1="1134.6" y1="397.8" x2="1185.4" y2="397.8" stroke="#000" stroke-width="3.4" stroke-linecap="round"/>
<line x1="1134.6" y1="429.7" x2="1185.4" y2="429.7" stroke="#000" stroke-width="3.4" stroke-linecap="round"/>
<line x1="1267.6" y1="450.7" x2="1368.6" y2="450.7" stroke="#000" stroke-width="3.6" stroke-linecap="round"/>
<line x1="1318.1" y1="441.0" x2="1318.1" y2="460.9" stroke="#000" stroke-width="3.2" stroke-linecap="butt"/>
<line x1="1292.7" y1="441.0" x2="1343.5" y2="441.0" stroke="#000" stroke-width="3.4" stroke-linecap="round"/>
<line x1="1292.7" y1="460.9" x2="1343.5" y2="460.9" stroke="#000" stroke-width="3.4" stroke-linecap="round"/>
<line x1="1425.1" y1="390.6" x2="1526.5" y2="390.6" stroke="#000" stroke-width="3.6" stroke-linecap="round"/>
<line x1="1475.8" y1="366.7" x2="1475.8" y2="414.5" stroke="#000" stroke-width="3.2" stroke-linecap="butt"/>
<line x1="1449.5" y1="366.7" x2="1502.1" y2="366.7" stroke="#000" stroke-width="3.4" stroke-linecap="round"/>
<line x1="1449.5" y1="414.5" x2="1502.1" y2="414.5" stroke="#000" stroke-width="3.4" stroke-linecap="round"/>
<line x1="1582.8" y1="432.5" x2="1682.2" y2="432.5" stroke="#000" stroke-width="3.6" stroke-linecap="round"/>
<line x1="1632.5" y1="420.3" x2="1632.5" y2="445.2" stroke="#000" stroke-width="3.2" stroke-linecap="butt"/>
<line x1="1606.7" y1="420.3" x2="1658.3" y2="420.3" stroke="#000" stroke-width="3.4" stroke-linecap="round"/>
<line x1="1606.7" y1="445.2" x2="1658.3" y2="445.2" stroke="#000" stroke-width="3.4" stroke-linecap="round"/>
<path d="M201.8,1036.1 L201.8,1444.0 L807.1,1444.0" fill="none" stroke="#000" stroke-width="5.8" stroke-linejoin="miter"/>
<line x1="807.0" y1="1444.0" x2="807.1" y2="1444.0" stroke="#000" stroke-width="5.8" stroke-linecap="round"/>
<line x1="186.3" y1="1444.0" x2="201.8" y2="1444.0" stroke="#000" stroke-width="5.4" stroke-linecap="butt"/>
<text x="184.8" y="1456.0" font-size="31" text-anchor="end" font-family="'Liberation Sans', Arial, sans-serif" font-weight="normal" font-style="normal" fill="#000" >0.0</text>
<line x1="186.3" y1="1342.8" x2="201.8" y2="1342.8" stroke="#000" stroke-width="5.4" stroke-linecap="butt"/>
<text x="184.8" y="1354.8" font-size="31" text-anchor="end" font-family="'Liberation Sans', Arial, sans-serif" font-weight="normal" font-style="normal" fill="#000" >0.5</text>
<line x1="186.3" y1="1241.5" x2="201.8" y2="1241.5" stroke="#000" stroke-width="5.4" stroke-linecap="butt"/>
<text x="184.8" y="1253.5" font-size="31" text-anchor="end" font-family="'Liberation Sans', Arial, sans-serif" font-weight="normal" font-style="normal" fill="#000" >1.0</text>
<line x1="186.3" y1="1140.2" x2="201.8" y2="1140.2" stroke="#000" stroke-width="5.4" stroke-linecap="butt"/>
<text x="184.8" y="1152.2" font-size="31" text-anchor="end" font-family="'Liberation Sans', Arial, sans-serif" font-weight="normal" font-style="normal" fill="#000" >1.5</text>
<line x1="186.3" y1="1039.0" x2="201.8" y2="1039.0" stroke="#000" stroke-width="5.4" stroke-linecap="butt"/>
<text x="184.8" y="1051.0" font-size="31" text-anchor="end" font-family="'Liberation Sans', Arial, sans-serif" font-weight="normal" font-style="normal" fill="#000" >2.0</text>
<line x1="277.0" y1="1444.0" x2="277.0" y2="1457.5" stroke="#000" stroke-width="5.2" stroke-linecap="round"/>
<line x1="429.0" y1="1444.0" x2="429.0" y2="1457.5" stroke="#000" stroke-width="5.2" stroke-linecap="round"/>
<line x1="581.7" y1="1444.0" x2="581.7" y2="1457.5" stroke="#000" stroke-width="5.2" stroke-linecap="round"/>
<line x1="733.0" y1="1444.0" x2="733.0" y2="1457.5" stroke="#000" stroke-width="5.2" stroke-linecap="round"/>
<text x="73.9" y="971.3" font-size="30" text-anchor="start" font-family="'Liberation Sans', Arial, sans-serif" font-weight="normal" font-style="italic" fill="#000" >mM-αLA</text>
<text x="73.9" y="1006.0" font-size="27" text-anchor="start" font-family="'Liberation Sans', Arial, sans-serif" font-weight="normal" font-style="italic" fill="#000" >equivalent</text>
<text x="277.0" y="1541.0" font-size="40" text-anchor="middle" font-family="'Liberation Sans', Arial, sans-serif" font-weight="normal" font-style="normal" fill="#000" >ASD</text>
<text x="429.0" y="1541.0" font-size="40" text-anchor="middle" font-family="'Liberation Sans', Arial, sans-serif" font-weight="normal" font-style="normal" fill="#000" >TD</text>
<text x="581.7" y="1541.0" font-size="40" text-anchor="middle" font-family="'Liberation Sans', Arial, sans-serif" font-weight="normal" font-style="normal" fill="#000" >ASD</text>
<text x="733.0" y="1541.0" font-size="40" text-anchor="middle" font-family="'Liberation Sans', Arial, sans-serif" font-weight="normal" font-style="normal" fill="#000" >TD</text>
<line x1="247.5" y1="1572.5" x2="474.8" y2="1572.5" stroke="#000" stroke-width="6.3" stroke-linecap="round"/>
<line x1="549.4" y1="1572.5" x2="777.7" y2="1572.5" stroke="#000" stroke-width="6.3" stroke-linecap="round"/>
<text x="350.6" y="1623.6" font-size="40" text-anchor="middle" font-family="'Liberation Sans', Arial, sans-serif" font-weight="normal" font-style="normal" fill="#000" >Total</text>
<text x="656.4" y="1623.6" font-size="40" text-anchor="middle" font-family="'Liberation Sans', Arial, sans-serif" font-weight="normal" font-style="normal" fill="#000" >6 y.o. and under</text>
<circle cx="286.8" cy="1104.0" r="6.3" fill="#f52a0a"/>
<circle cx="268.5" cy="1114.5" r="6.3" fill="#f52a0a"/>
<circle cx="268.5" cy="1152.4" r="6.3" fill="#f52a0a"/>
<circle cx="286.8" cy="1162.9" r="6.3" fill="#f52a0a"/>
<circle cx="277.8" cy="1202.8" r="6.3" fill="#f52a0a"/>
<circle cx="241.3" cy="1216.1" r="6.3" fill="#f52a0a"/>
<circle cx="259.6" cy="1225.2" r="6.3" fill="#f52a0a"/>
<circle cx="314.2" cy="1224.5" r="6.3" fill="#f52a0a"/>
<circle cx="296.0" cy="1233.7" r="6.3" fill="#f52a0a"/>
<circle cx="268.5" cy="1243.5" r="6.3" fill="#f52a0a"/>
<circle cx="286.8" cy="1241.4" r="6.3" fill="#f52a0a"/>
<circle cx="245.6" cy="1251.9" r="6.3" fill="#f52a0a"/>
<circle cx="297.0" cy="1252.6" r="6.3" fill="#f52a0a"/>
<circle cx="310.0" cy="1249.8" r="6.3" fill="#f52a0a"/>
<circle cx="258.4" cy="1259.6" r="6.3" fill="#f52a0a"/>
<circle cx="271.1" cy="1259.6" r="6.3" fill="#f52a0a"/>
<circle cx="283.7" cy="1259.6" r="6.3" fill="#f52a0a"/>
<circle cx="268.5" cy="1278.5" r="6.3" fill="#f52a0a"/>
<circle cx="286.8" cy="1282.0" r="6.3" fill="#f52a0a"/>
<circle cx="235.3" cy="1289.7" r="6.3" fill="#f52a0a"/>
<circle cx="303.0" cy="1291.1" r="6.3" fill="#f52a0a"/>
<circle cx="319.8" cy="1286.9" r="6.3" fill="#f52a0a"/>
<circle cx="252.1" cy="1298.1" r="6.3" fill="#f52a0a"/>
<circle cx="269.0" cy="1303.0" r="6.3" fill="#f52a0a"/>
<circle cx="286.2" cy="1302.3" r="6.3" fill="#f52a0a"/>
<circle cx="235.3" cy="1310.0" r="6.3" fill="#f52a0a"/>
<circle cx="249.3" cy="1314.2" r="6.3" fill="#f52a0a"/>
<circle cx="320.1" cy="1307.2" r="6.3" fill="#f52a0a"/>
<circle cx="306.1" cy="1313.5" r="6.3" fill="#f52a0a"/>
<circle cx="291.8" cy="1317.0" r="6.3" fill="#f52a0a"/>
<circle cx="263.4" cy="1319.9" r="6.3" fill="#f52a0a"/>
<circle cx="277.8" cy="1322.7" r="6.3" fill="#f52a0a"/>
<circle cx="241.3" cy="1329.7" r="6.3" fill="#f52a0a"/>
<circle cx="314.2" cy="1334.6" r="6.3" fill="#f52a0a"/>
<circle cx="259.6" cy="1339.5" r="6.3" fill="#f52a0a"/>
<circle cx="277.4" cy="1341.6" r="6.3" fill="#f52a0a"/>
<circle cx="269.0" cy="1343.7" r="6.3" fill="#f52a0a"/>
<circle cx="296.0" cy="1340.9" r="6.3" fill="#f52a0a"/>
<circle cx="245.6" cy="1350.7" r="6.3" fill="#f52a0a"/>
<circle cx="286.8" cy="1349.3" r="6.3" fill="#f52a0a"/>
<circle cx="310.0" cy="1350.7" r="6.3" fill="#f52a0a"/>
<circle cx="258.4" cy="1354.9" r="6.3" fill="#f52a0a"/>
<circle cx="271.1" cy="1357.0" r="6.3" fill="#f52a0a"/>
<circle cx="297.0" cy="1354.9" r="6.3" fill="#f52a0a"/>
<circle cx="284.0" cy="1362.6" r="6.3" fill="#f52a0a"/>
<circle cx="277.8" cy="1396.2" r="6.3" fill="#f52a0a"/>
<rect x="423.1" y="1085.5" width="12.5" height="12.5" fill="#0a32f5"/>
<rect x="413.9" y="1150.8" width="12.5" height="12.5" fill="#0a32f5"/>
<rect x="432.4" y="1152.3" width="12.5" height="12.5" fill="#0a32f5"/>
<rect x="404.8" y="1180.8" width="12.5" height="12.5" fill="#0a32f5"/>
<rect x="423.1" y="1183.3" width="12.5" height="12.5" fill="#0a32f5"/>
<rect x="441.6" y="1180.8" width="12.5" height="12.5" fill="#0a32f5"/>
<rect x="387.1" y="1219.2" width="12.5" height="12.5" fill="#0a32f5"/>
<rect x="459.9" y="1219.2" width="12.5" height="12.5" fill="#0a32f5"/>
<rect x="404.8" y="1227.7" width="12.5" height="12.5" fill="#0a32f5"/>
<rect x="441.6" y="1225.2" width="12.5" height="12.5" fill="#0a32f5"/>
<rect x="423.1" y="1235.2" width="12.5" height="12.5" fill="#0a32f5"/>
<rect x="432.4" y="1246.0" width="12.5" height="12.5" fill="#0a32f5"/>
<rect x="413.9" y="1256.0" width="12.5" height="12.5" fill="#0a32f5"/>
<rect x="373.9" y="1268.7" width="12.5" height="12.5" fill="#0a32f5"/>
<rect x="394.8" y="1269.5" width="12.5" height="12.5" fill="#0a32f5"/>
<rect x="408.9" y="1273.7" width="12.5" height="12.5" fill="#0a32f5"/>
<rect x="423.1" y="1276.2" width="12.5" height="12.5" fill="#0a32f5"/>
<rect x="437.4" y="1271.2" width="12.5" height="12.5" fill="#0a32f5"/>
<rect x="451.6" y="1269.5" width="12.5" height="12.5" fill="#0a32f5"/>
<rect x="465.9" y="1263.7" width="12.5" height="12.5" fill="#0a32f5"/>
<rect x="380.4" y="1280.3" width="12.5" height="12.5" fill="#0a32f5"/>
<rect x="394.8" y="1287.0" width="12.5" height="12.5" fill="#0a32f5"/>
<rect x="408.9" y="1290.3" width="12.5" height="12.5" fill="#0a32f5"/>
<rect x="423.1" y="1296.2" width="12.5" height="12.5" fill="#0a32f5"/>
<rect x="440.8" y="1296.2" width="12.5" height="12.5" fill="#0a32f5"/>
<rect x="451.6" y="1287.8" width="12.5" height="12.5" fill="#0a32f5"/>
<rect x="465.9" y="1285.3" width="12.5" height="12.5" fill="#0a32f5"/>
<rect x="404.8" y="1308.0" width="12.5" height="12.5" fill="#0a32f5"/>
<rect x="423.1" y="1316.3" width="12.5" height="12.5" fill="#0a32f5"/>
<rect x="382.1" y="1321.3" width="12.5" height="12.5" fill="#0a32f5"/>
<rect x="392.2" y="1328.0" width="12.5" height="12.5" fill="#0a32f5"/>
<rect x="403.9" y="1334.8" width="12.5" height="12.5" fill="#0a32f5"/>
<rect x="413.9" y="1337.2" width="12.5" height="12.5" fill="#0a32f5"/>
<rect x="423.1" y="1338.0" width="12.5" height="12.5" fill="#0a32f5"/>
<rect x="432.4" y="1337.2" width="12.5" height="12.5" fill="#0a32f5"/>
<rect x="442.4" y="1334.8" width="12.5" height="12.5" fill="#0a32f5"/>
<rect x="453.2" y="1331.3" width="12.5" height="12.5" fill="#0a32f5"/>
<rect x="464.1" y="1328.0" width="12.5" height="12.5" fill="#0a32f5"/>
<rect x="465.9" y="1341.3" width="12.5" height="12.5" fill="#0a32f5"/>
<rect x="380.4" y="1346.5" width="12.5" height="12.5" fill="#0a32f5"/>
<rect x="394.8" y="1349.0" width="12.5" height="12.5" fill="#0a32f5"/>
<rect x="408.9" y="1356.5" width="12.5" height="12.5" fill="#0a32f5"/>
<rect x="423.1" y="1359.0" width="12.5" height="12.5" fill="#0a32f5"/>
<rect x="437.4" y="1350.7" width="12.5" height="12.5" fill="#0a32f5"/>
<rect x="451.6" y="1348.0" width="12.5" height="12.5" fill="#0a32f5"/>
<rect x="432.4" y="1373.2" width="12.5" height="12.5" fill="#0a32f5"/>
<rect x="413.9" y="1379.0" width="12.5" height="12.5" fill="#0a32f5"/>
<rect x="459.9" y="1383.2" width="12.5" height="12.5" fill="#0a32f5"/>
<rect x="387.1" y="1390.0" width="12.5" height="12.5" fill="#0a32f5"/>
<rect x="441.6" y="1391.5" width="12.5" height="12.5" fill="#0a32f5"/>
<rect x="404.8" y="1400.0" width="12.5" height="12.5" fill="#0a32f5"/>
<rect x="423.1" y="1401.7" width="12.5" height="12.5" fill="#0a32f5"/>
<rect x="387.1" y="1421.7" width="12.5" height="12.5" fill="#0a32f5"/>
<rect x="404.8" y="1431.8" width="12.5" height="12.5" fill="#0a32f5"/>
<rect x="423.1" y="1435.0" width="12.5" height="12.5" fill="#0a32f5"/>
<rect x="441.6" y="1435.0" width="12.5" height="12.5" fill="#0a32f5"/>
<rect x="459.9" y="1430.0" width="12.5" height="12.5" fill="#0a32f5"/>
<circle cx="572.6" cy="1104.7" r="5.6" fill="none" stroke="#f52a0a" stroke-width="4"/>
<circle cx="590.8" cy="1114.5" r="5.6" fill="none" stroke="#f52a0a" stroke-width="4"/>
<circle cx="590.8" cy="1153.1" r="5.6" fill="none" stroke="#f52a0a" stroke-width="4"/>
<circle cx="572.6" cy="1162.9" r="5.6" fill="none" stroke="#f52a0a" stroke-width="4"/>
<circle cx="572.6" cy="1225.2" r="5.6" fill="none" stroke="#f52a0a" stroke-width="4"/>
<circle cx="590.8" cy="1233.7" r="5.6" fill="none" stroke="#f52a0a" stroke-width="4"/>
<circle cx="563.4" cy="1249.8" r="5.6" fill="none" stroke="#f52a0a" stroke-width="4"/>
<circle cx="599.9" cy="1252.6" r="5.6" fill="none" stroke="#f52a0a" stroke-width="4"/>
<circle cx="581.7" cy="1260.3" r="5.6" fill="none" stroke="#f52a0a" stroke-width="4"/>
<circle cx="572.6" cy="1303.0" r="5.6" fill="none" stroke="#f52a0a" stroke-width="4"/>
<circle cx="590.8" cy="1310.7" r="5.6" fill="none" stroke="#f52a0a" stroke-width="4"/>
<circle cx="563.4" cy="1335.3" r="5.6" fill="none" stroke="#f52a0a" stroke-width="4"/>
<circle cx="581.7" cy="1343.0" r="5.6" fill="none" stroke="#f52a0a" stroke-width="4"/>
<circle cx="609.0" cy="1340.9" r="5.6" fill="none" stroke="#f52a0a" stroke-width="4"/>
<circle cx="544.9" cy="1350.7" r="5.6" fill="none" stroke="#f52a0a" stroke-width="4"/>
<circle cx="618.1" cy="1349.3" r="5.6" fill="none" stroke="#f52a0a" stroke-width="4"/>
<circle cx="563.4" cy="1357.0" r="5.6" fill="none" stroke="#f52a0a" stroke-width="4"/>
<circle cx="599.9" cy="1355.6" r="5.6" fill="none" stroke="#f52a0a" stroke-width="4"/>
<circle cx="581.7" cy="1363.3" r="5.6" fill="none" stroke="#f52a0a" stroke-width="4"/>
<circle cx="581.7" cy="1395.5" r="5.6" fill="none" stroke="#f52a0a" stroke-width="4"/>
<rect x="727.4" y="1085.9" width="11.6" height="11.6" fill="none" stroke="#0a32f5" stroke-width="3.9"/>
<rect x="718.1" y="1152.8" width="11.6" height="11.6" fill="none" stroke="#0a32f5" stroke-width="3.9"/>
<rect x="737.0" y="1151.2" width="11.6" height="11.6" fill="none" stroke="#0a32f5" stroke-width="3.9"/>
<rect x="709.0" y="1182.1" width="11.6" height="11.6" fill="none" stroke="#0a32f5" stroke-width="3.9"/>
<rect x="727.4" y="1183.8" width="11.6" height="11.6" fill="none" stroke="#0a32f5" stroke-width="3.9"/>
<rect x="746.2" y="1182.1" width="11.6" height="11.6" fill="none" stroke="#0a32f5" stroke-width="3.9"/>
<rect x="699.3" y="1218.9" width="11.6" height="11.6" fill="none" stroke="#0a32f5" stroke-width="3.9"/>
<rect x="755.4" y="1218.9" width="11.6" height="11.6" fill="none" stroke="#0a32f5" stroke-width="3.9"/>
<rect x="736.1" y="1228.1" width="11.6" height="11.6" fill="none" stroke="#0a32f5" stroke-width="3.9"/>
<rect x="718.1" y="1235.6" width="11.6" height="11.6" fill="none" stroke="#0a32f5" stroke-width="3.9"/>
<rect x="727.4" y="1255.7" width="11.6" height="11.6" fill="none" stroke="#0a32f5" stroke-width="3.9"/>
<rect x="699.3" y="1269.1" width="11.6" height="11.6" fill="none" stroke="#0a32f5" stroke-width="3.9"/>
<rect x="755.4" y="1264.1" width="11.6" height="11.6" fill="none" stroke="#0a32f5" stroke-width="3.9"/>
<rect x="718.1" y="1275.8" width="11.6" height="11.6" fill="none" stroke="#0a32f5" stroke-width="3.9"/>
<rect x="736.1" y="1273.3" width="11.6" height="11.6" fill="none" stroke="#0a32f5" stroke-width="3.9"/>
<rect x="746.2" y="1281.6" width="11.6" height="11.6" fill="none" stroke="#0a32f5" stroke-width="3.9"/>
<rect x="709.0" y="1289.2" width="11.6" height="11.6" fill="none" stroke="#0a32f5" stroke-width="3.9"/>
<rect x="727.4" y="1294.2" width="11.6" height="11.6" fill="none" stroke="#0a32f5" stroke-width="3.9"/>
<rect x="690.1" y="1341.0" width="11.6" height="11.6" fill="none" stroke="#0a32f5" stroke-width="3.9"/>
<rect x="709.0" y="1351.0" width="11.6" height="11.6" fill="none" stroke="#0a32f5" stroke-width="3.9"/>
<rect x="727.4" y="1359.4" width="11.6" height="11.6" fill="none" stroke="#0a32f5" stroke-width="3.9"/>
<rect x="746.2" y="1356.9" width="11.6" height="11.6" fill="none" stroke="#0a32f5" stroke-width="3.9"/>
<rect x="764.6" y="1350.2" width="11.6" height="11.6" fill="none" stroke="#0a32f5" stroke-width="3.9"/>
<rect x="699.3" y="1389.5" width="11.6" height="11.6" fill="none" stroke="#0a32f5" stroke-width="3.9"/>
<rect x="718.1" y="1398.7" width="11.6" height="11.6" fill="none" stroke="#0a32f5" stroke-width="3.9"/>
<rect x="736.1" y="1401.2" width="11.6" height="11.6" fill="none" stroke="#0a32f5" stroke-width="3.9"/>
<rect x="755.4" y="1391.2" width="11.6" height="11.6" fill="none" stroke="#0a32f5" stroke-width="3.9"/>
<rect x="690.1" y="1423.0" width="11.6" height="11.6" fill="none" stroke="#0a32f5" stroke-width="3.9"/>
<rect x="709.0" y="1433.0" width="11.6" height="11.6" fill="none" stroke="#0a32f5" stroke-width="3.9"/>
<rect x="727.4" y="1437.2" width="11.6" height="11.6" fill="none" stroke="#0a32f5" stroke-width="3.9"/>
<rect x="746.2" y="1435.5" width="11.6" height="11.6" fill="none" stroke="#0a32f5" stroke-width="3.9"/>
<rect x="764.6" y="1430.5" width="11.6" height="11.6" fill="none" stroke="#0a32f5" stroke-width="3.9"/>
<line x1="228.8" y1="1284.8" x2="327.4" y2="1284.8" stroke="#000" stroke-width="3.6" stroke-linecap="round"/>
<line x1="278.1" y1="1265.2" x2="278.1" y2="1304.4" stroke="#000" stroke-width="3.2" stroke-linecap="butt"/>
<line x1="253.3" y1="1265.2" x2="302.9" y2="1265.2" stroke="#000" stroke-width="3.4" stroke-linecap="round"/>
<line x1="253.3" y1="1304.4" x2="302.9" y2="1304.4" stroke="#000" stroke-width="3.4" stroke-linecap="round"/>
<line x1="380.3" y1="1311.7" x2="478.5" y2="1311.7" stroke="#000" stroke-width="3.6" stroke-linecap="round"/>
<line x1="429.4" y1="1291.1" x2="429.4" y2="1331.8" stroke="#000" stroke-width="3.2" stroke-linecap="butt"/>
<line x1="404.9" y1="1291.1" x2="453.9" y2="1291.1" stroke="#000" stroke-width="3.4" stroke-linecap="round"/>
<line x1="404.9" y1="1331.8" x2="453.9" y2="1331.8" stroke="#000" stroke-width="3.4" stroke-linecap="round"/>
<line x1="533.1" y1="1277.8" x2="630.3" y2="1277.8" stroke="#000" stroke-width="3.6" stroke-linecap="round"/>
<line x1="581.7" y1="1236.5" x2="581.7" y2="1319.2" stroke="#000" stroke-width="3.2" stroke-linecap="butt"/>
<line x1="557.2" y1="1236.5" x2="606.2" y2="1236.5" stroke="#000" stroke-width="3.4" stroke-linecap="round"/>
<line x1="557.2" y1="1319.2" x2="606.2" y2="1319.2" stroke="#000" stroke-width="3.4" stroke-linecap="round"/>
<line x1="684.9" y1="1303.8" x2="781.5" y2="1303.8" stroke="#000" stroke-width="3.6" stroke-linecap="round"/>
<line x1="733.2" y1="1268.2" x2="733.2" y2="1339.3" stroke="#000" stroke-width="3.2" stroke-linecap="butt"/>
<line x1="708.7" y1="1268.2" x2="757.7" y2="1268.2" stroke="#000" stroke-width="3.4" stroke-linecap="round"/>
<line x1="708.7" y1="1339.3" x2="757.7" y2="1339.3" stroke="#000" stroke-width="3.4" stroke-linecap="round"/>
<path d="M1081.8,1031.3 L1081.8,1444.4 L1693.1,1444.4" fill="none" stroke="#000" stroke-width="5.8" stroke-linejoin="miter"/>
<line x1="1693.0" y1="1444.4" x2="1693.1" y2="1444.4" stroke="#000" stroke-width="5.8" stroke-linecap="round"/>
<line x1="1066.3" y1="1444.4" x2="1081.8" y2="1444.4" stroke="#000" stroke-width="5.4" stroke-linecap="butt"/>
<text x="1064.8" y="1456.4" font-size="31" text-anchor="end" font-family="'Liberation Sans', Arial, sans-serif" font-weight="normal" font-style="normal" fill="#000" >0</text>
<line x1="1066.3" y1="1307.7" x2="1081.8" y2="1307.7" stroke="#000" stroke-width="5.4" stroke-linecap="butt"/>
<text x="1064.8" y="1319.7" font-size="31" text-anchor="end" font-family="'Liberation Sans', Arial, sans-serif" font-weight="normal" font-style="normal" fill="#000" >10</text>
<line x1="1066.3" y1="1170.9" x2="1081.8" y2="1170.9" stroke="#000" stroke-width="5.4" stroke-linecap="butt"/>
<text x="1064.8" y="1182.9" font-size="31" text-anchor="end" font-family="'Liberation Sans', Arial, sans-serif" font-weight="normal" font-style="normal" fill="#000" >20</text>
<line x1="1066.3" y1="1034.2" x2="1081.8" y2="1034.2" stroke="#000" stroke-width="5.4" stroke-linecap="butt"/>
<text x="1064.8" y="1046.2" font-size="31" text-anchor="end" font-family="'Liberation Sans', Arial, sans-serif" font-weight="normal" font-style="normal" fill="#000" >30</text>
<line x1="1157.0" y1="1444.4" x2="1157.0" y2="1457.9" stroke="#000" stroke-width="5.2" stroke-linecap="round"/>
<line x1="1311.0" y1="1444.4" x2="1311.0" y2="1457.9" stroke="#000" stroke-width="5.2" stroke-linecap="round"/>
<line x1="1464.4" y1="1444.4" x2="1464.4" y2="1457.9" stroke="#000" stroke-width="5.2" stroke-linecap="round"/>
<line x1="1618.6" y1="1444.4" x2="1618.6" y2="1457.9" stroke="#000" stroke-width="5.2" stroke-linecap="round"/>
<path d="M1154.0,1009.4 L1154.0,965.0 L1310.0,965.0 L1310.0,1009.4" fill="none" stroke="#000" stroke-width="6" stroke-linejoin="miter" stroke-linecap="round"/>
<text x="1233.8" y="954.0" font-size="50" text-anchor="middle" font-family="'Liberation Sans', Arial, sans-serif" font-weight="bold" font-style="normal" fill="#000" letter-spacing="3.6">**</text>
<path d="M1464.0,1009.4 L1464.0,965.0 L1618.6,965.0 L1618.6,1009.4" fill="none" stroke="#000" stroke-width="6" stroke-linejoin="miter" stroke-linecap="round"/>
<text x="1543.1" y="954.0" font-size="50" text-anchor="middle" font-family="'Liberation Sans', Arial, sans-serif" font-weight="bold" font-style="normal" fill="#000" letter-spacing="3.6">**</text>
<text x="952.4" y="965.3" font-size="28.5" text-anchor="start" font-family="'Liberation Sans', Arial, sans-serif" font-weight="normal" font-style="italic" fill="#000" >U/mL-SOD</text>
<text x="953.0" y="999.5" font-size="27" text-anchor="start" font-family="'Liberation Sans', Arial, sans-serif" font-weight="normal" font-style="italic" fill="#000" >equivalent</text>
<text x="1157.0" y="1542.3" font-size="40" text-anchor="middle" font-family="'Liberation Sans', Arial, sans-serif" font-weight="normal" font-style="normal" fill="#000" >ASD</text>
<text x="1311.0" y="1542.3" font-size="40" text-anchor="middle" font-family="'Liberation Sans', Arial, sans-serif" font-weight="normal" font-style="normal" fill="#000" >TD</text>
<text x="1464.4" y="1542.3" font-size="40" text-anchor="middle" font-family="'Liberation Sans', Arial, sans-serif" font-weight="normal" font-style="normal" fill="#000" >ASD</text>
<text x="1618.6" y="1542.3" font-size="40" text-anchor="middle" font-family="'Liberation Sans', Arial, sans-serif" font-weight="normal" font-style="normal" fill="#000" >TD</text>
<line x1="1127.5" y1="1574.1" x2="1357.7" y2="1574.1" stroke="#000" stroke-width="6.3" stroke-linecap="round"/>
<line x1="1434.2" y1="1574.1" x2="1664.5" y2="1574.1" stroke="#000" stroke-width="6.3" stroke-linecap="round"/>
<text x="1231.0" y="1625.5" font-size="40" text-anchor="middle" font-family="'Liberation Sans', Arial, sans-serif" font-weight="normal" font-style="normal" fill="#000" >Total</text>
<text x="1541.7" y="1625.5" font-size="40" text-anchor="middle" font-family="'Liberation Sans', Arial, sans-serif" font-weight="normal" font-style="normal" fill="#000" >6 y.o. and under</text>
<circle cx="1157.0" cy="1059.7" r="6.3" fill="#f52a0a"/>
<circle cx="1148.7" cy="1190.3" r="6.3" fill="#f52a0a"/>
<circle cx="1167.1" cy="1186.5" r="6.3" fill="#f52a0a"/>
<circle cx="1176.4" cy="1224.5" r="6.3" fill="#f52a0a"/>
<circle cx="1139.5" cy="1231.5" r="6.3" fill="#f52a0a"/>
<circle cx="1157.9" cy="1238.6" r="6.3" fill="#f52a0a"/>
<circle cx="1130.3" cy="1254.3" r="6.3" fill="#f52a0a"/>
<circle cx="1167.1" cy="1254.3" r="6.3" fill="#f52a0a"/>
<circle cx="1185.6" cy="1254.3" r="6.3" fill="#f52a0a"/>
<circle cx="1148.7" cy="1263.0" r="6.3" fill="#f52a0a"/>
<circle cx="1121.0" cy="1280.9" r="6.3" fill="#f52a0a"/>
<circle cx="1194.8" cy="1277.6" r="6.3" fill="#f52a0a"/>
<circle cx="1139.5" cy="1289.6" r="6.3" fill="#f52a0a"/>
<circle cx="1157.9" cy="1290.7" r="6.3" fill="#f52a0a"/>
<circle cx="1176.4" cy="1285.8" r="6.3" fill="#f52a0a"/>
<circle cx="1115.1" cy="1295.5" r="6.3" fill="#f52a0a"/>
<circle cx="1167.1" cy="1295.5" r="6.3" fill="#f52a0a"/>
<circle cx="1129.7" cy="1302.1" r="6.3" fill="#f52a0a"/>
<circle cx="1143.8" cy="1303.7" r="6.3" fill="#f52a0a"/>
<circle cx="1194.3" cy="1303.7" r="6.3" fill="#f52a0a"/>
<circle cx="1172.0" cy="1305.9" r="6.3" fill="#f52a0a"/>
<circle cx="1157.9" cy="1311.8" r="6.3" fill="#f52a0a"/>
<circle cx="1115.1" cy="1317.8" r="6.3" fill="#f52a0a"/>
<circle cx="1200.8" cy="1316.7" r="6.3" fill="#f52a0a"/>
<circle cx="1129.2" cy="1323.2" r="6.3" fill="#f52a0a"/>
<circle cx="1186.7" cy="1318.3" r="6.3" fill="#f52a0a"/>
<circle cx="1143.8" cy="1331.9" r="6.3" fill="#f52a0a"/>
<circle cx="1157.9" cy="1332.4" r="6.3" fill="#f52a0a"/>
<circle cx="1172.6" cy="1328.1" r="6.3" fill="#f52a0a"/>
<circle cx="1115.1" cy="1337.9" r="6.3" fill="#f52a0a"/>
<circle cx="1167.1" cy="1341.7" r="6.3" fill="#f52a0a"/>
<circle cx="1129.2" cy="1345.5" r="6.3" fill="#f52a0a"/>
<circle cx="1143.8" cy="1352.5" r="6.3" fill="#f52a0a"/>
<circle cx="1157.9" cy="1355.2" r="6.3" fill="#f52a0a"/>
<circle cx="1172.6" cy="1354.1" r="6.3" fill="#f52a0a"/>
<circle cx="1194.3" cy="1351.4" r="6.3" fill="#f52a0a"/>
<circle cx="1200.8" cy="1360.1" r="6.3" fill="#f52a0a"/>
<circle cx="1115.1" cy="1363.4" r="6.3" fill="#f52a0a"/>
<circle cx="1129.2" cy="1364.4" r="6.3" fill="#f52a0a"/>
<circle cx="1186.7" cy="1363.9" r="6.3" fill="#f52a0a"/>
<circle cx="1143.8" cy="1373.7" r="6.3" fill="#f52a0a"/>
<circle cx="1157.9" cy="1376.9" r="6.3" fill="#f52a0a"/>
<circle cx="1172.6" cy="1372.0" r="6.3" fill="#f52a0a"/>
<circle cx="1139.5" cy="1387.2" r="6.3" fill="#f52a0a"/>
<circle cx="1176.4" cy="1387.2" r="6.3" fill="#f52a0a"/>
<circle cx="1157.9" cy="1400.8" r="6.3" fill="#f52a0a"/>
<rect x="1305.5" y="1208.0" width="12.5" height="12.5" fill="#0a32f5"/>
<rect x="1305.5" y="1263.0" width="12.5" height="12.5" fill="#0a32f5"/>
<rect x="1287.5" y="1294.0" width="12.5" height="12.5" fill="#0a32f5"/>
<rect x="1305.5" y="1301.5" width="12.5" height="12.5" fill="#0a32f5"/>
<rect x="1324.0" y="1296.3" width="12.5" height="12.5" fill="#0a32f5"/>
<rect x="1264.2" y="1311.0" width="12.5" height="12.5" fill="#0a32f5"/>
<rect x="1273.3" y="1316.2" width="12.5" height="12.5" fill="#0a32f5"/>
<rect x="1282.7" y="1320.2" width="12.5" height="12.5" fill="#0a32f5"/>
<rect x="1291.8" y="1322.8" width="12.5" height="12.5" fill="#0a32f5"/>
<rect x="1301.0" y="1324.0" width="12.5" height="12.5" fill="#0a32f5"/>
<rect x="1310.3" y="1324.0" width="12.5" height="12.5" fill="#0a32f5"/>
<rect x="1319.5" y="1322.7" width="12.5" height="12.5" fill="#0a32f5"/>
<rect x="1328.8" y="1319.8" width="12.5" height="12.5" fill="#0a32f5"/>
<rect x="1338.0" y="1315.7" width="12.5" height="12.5" fill="#0a32f5"/>
<rect x="1347.2" y="1310.0" width="12.5" height="12.5" fill="#0a32f5"/>
<rect x="1262.2" y="1333.3" width="12.5" height="12.5" fill="#0a32f5"/>
<rect x="1273.2" y="1334.3" width="12.5" height="12.5" fill="#0a32f5"/>
<rect x="1284.0" y="1335.2" width="12.5" height="12.5" fill="#0a32f5"/>
<rect x="1294.8" y="1335.5" width="12.5" height="12.5" fill="#0a32f5"/>
<rect x="1305.8" y="1335.8" width="12.5" height="12.5" fill="#0a32f5"/>
<rect x="1316.5" y="1335.5" width="12.5" height="12.5" fill="#0a32f5"/>
<rect x="1327.5" y="1334.7" width="12.5" height="12.5" fill="#0a32f5"/>
<rect x="1338.2" y="1333.3" width="12.5" height="12.5" fill="#0a32f5"/>
<rect x="1349.2" y="1331.5" width="12.5" height="12.5" fill="#0a32f5"/>
<rect x="1260.8" y="1344.8" width="12.5" height="12.5" fill="#0a32f5"/>
<rect x="1270.7" y="1344.8" width="12.5" height="12.5" fill="#0a32f5"/>
<rect x="1280.5" y="1344.8" width="12.5" height="12.5" fill="#0a32f5"/>
<rect x="1290.5" y="1344.8" width="12.5" height="12.5" fill="#0a32f5"/>
<rect x="1300.3" y="1344.8" width="12.5" height="12.5" fill="#0a32f5"/>
<rect x="1310.2" y="1344.8" width="12.5" height="12.5" fill="#0a32f5"/>
<rect x="1320.0" y="1344.8" width="12.5" height="12.5" fill="#0a32f5"/>
<rect x="1330.0" y="1344.8" width="12.5" height="12.5" fill="#0a32f5"/>
<rect x="1339.8" y="1344.8" width="12.5" height="12.5" fill="#0a32f5"/>
<rect x="1349.8" y="1344.8" width="12.5" height="12.5" fill="#0a32f5"/>
<rect x="1263.8" y="1352.8" width="12.5" height="12.5" fill="#0a32f5"/>
<rect x="1274.0" y="1352.8" width="12.5" height="12.5" fill="#0a32f5"/>
<rect x="1284.2" y="1352.8" width="12.5" height="12.5" fill="#0a32f5"/>
<rect x="1294.5" y="1352.8" width="12.5" height="12.5" fill="#0a32f5"/>
<rect x="1304.8" y="1352.8" width="12.5" height="12.5" fill="#0a32f5"/>
<rect x="1315.0" y="1352.8" width="12.5" height="12.5" fill="#0a32f5"/>
<rect x="1325.2" y="1352.8" width="12.5" height="12.5" fill="#0a32f5"/>
<rect x="1335.5" y="1352.8" width="12.5" height="12.5" fill="#0a32f5"/>
<rect x="1345.8" y="1352.8" width="12.5" height="12.5" fill="#0a32f5"/>
<rect x="1305.5" y="1360.8" width="12.5" height="12.5" fill="#0a32f5"/>
<rect x="1296.5" y="1371.3" width="12.5" height="12.5" fill="#0a32f5"/>
<rect x="1313.8" y="1371.8" width="12.5" height="12.5" fill="#0a32f5"/>
<rect x="1272.8" y="1373.8" width="12.5" height="12.5" fill="#0a32f5"/>
<rect x="1338.2" y="1373.2" width="12.5" height="12.5" fill="#0a32f5"/>
<rect x="1325.5" y="1378.5" width="12.5" height="12.5" fill="#0a32f5"/>
<rect x="1285.5" y="1384.7" width="12.5" height="12.5" fill="#0a32f5"/>
<rect x="1298.8" y="1386.5" width="12.5" height="12.5" fill="#0a32f5"/>
<rect x="1312.2" y="1384.2" width="12.5" height="12.5" fill="#0a32f5"/>
<circle cx="1456.1" cy="1232.2" r="5.6" fill="none" stroke="#f52a0a" stroke-width="4"/>
<circle cx="1474.7" cy="1224.7" r="5.6" fill="none" stroke="#f52a0a" stroke-width="4"/>
<circle cx="1483.9" cy="1238.8" r="5.6" fill="none" stroke="#f52a0a" stroke-width="4"/>
<circle cx="1447.3" cy="1254.2" r="5.6" fill="none" stroke="#f52a0a" stroke-width="4"/>
<circle cx="1465.4" cy="1254.7" r="5.6" fill="none" stroke="#f52a0a" stroke-width="4"/>
<circle cx="1465.4" cy="1280.7" r="5.6" fill="none" stroke="#f52a0a" stroke-width="4"/>
<circle cx="1422.6" cy="1289.5" r="5.6" fill="none" stroke="#f52a0a" stroke-width="4"/>
<circle cx="1508.2" cy="1290.8" r="5.6" fill="none" stroke="#f52a0a" stroke-width="4"/>
<circle cx="1439.8" cy="1296.6" r="5.6" fill="none" stroke="#f52a0a" stroke-width="4"/>
<circle cx="1456.6" cy="1304.1" r="5.6" fill="none" stroke="#f52a0a" stroke-width="4"/>
<circle cx="1474.2" cy="1307.1" r="5.6" fill="none" stroke="#f52a0a" stroke-width="4"/>
<circle cx="1491.0" cy="1303.6" r="5.6" fill="none" stroke="#f52a0a" stroke-width="4"/>
<circle cx="1446.4" cy="1316.4" r="5.6" fill="none" stroke="#f52a0a" stroke-width="4"/>
<circle cx="1483.5" cy="1323.0" r="5.6" fill="none" stroke="#f52a0a" stroke-width="4"/>
<circle cx="1465.4" cy="1329.6" r="5.6" fill="none" stroke="#f52a0a" stroke-width="4"/>
<circle cx="1446.4" cy="1346.8" r="5.6" fill="none" stroke="#f52a0a" stroke-width="4"/>
<circle cx="1483.9" cy="1342.9" r="5.6" fill="none" stroke="#f52a0a" stroke-width="4"/>
<circle cx="1465.4" cy="1354.8" r="5.6" fill="none" stroke="#f52a0a" stroke-width="4"/>
<circle cx="1474.7" cy="1365.3" r="5.6" fill="none" stroke="#f52a0a" stroke-width="4"/>
<circle cx="1456.1" cy="1378.1" r="5.6" fill="none" stroke="#f52a0a" stroke-width="4"/>
<rect x="1594.6" y="1312.7" width="11.6" height="11.6" fill="none" stroke="#0a32f5" stroke-width="3.9"/>
<rect x="1613.4" y="1314.1" width="11.6" height="11.6" fill="none" stroke="#0a32f5" stroke-width="3.9"/>
<rect x="1631.8" y="1310.9" width="11.6" height="11.6" fill="none" stroke="#0a32f5" stroke-width="3.9"/>
<rect x="1572.2" y="1321.0" width="11.6" height="11.6" fill="none" stroke="#0a32f5" stroke-width="3.9"/>
<rect x="1655.2" y="1323.9" width="11.6" height="11.6" fill="none" stroke="#0a32f5" stroke-width="3.9"/>
<rect x="1580.9" y="1328.8" width="11.6" height="11.6" fill="none" stroke="#0a32f5" stroke-width="3.9"/>
<rect x="1597.5" y="1330.4" width="11.6" height="11.6" fill="none" stroke="#0a32f5" stroke-width="3.9"/>
<rect x="1614.1" y="1331.8" width="11.6" height="11.6" fill="none" stroke="#0a32f5" stroke-width="3.9"/>
<rect x="1631.4" y="1330.4" width="11.6" height="11.6" fill="none" stroke="#0a32f5" stroke-width="3.9"/>
<rect x="1644.4" y="1328.8" width="11.6" height="11.6" fill="none" stroke="#0a32f5" stroke-width="3.9"/>
<rect x="1564.2" y="1339.0" width="11.6" height="11.6" fill="none" stroke="#0a32f5" stroke-width="3.9"/>
<rect x="1576.6" y="1339.0" width="11.6" height="11.6" fill="none" stroke="#0a32f5" stroke-width="3.9"/>
<rect x="1589.0" y="1339.0" width="11.6" height="11.6" fill="none" stroke="#0a32f5" stroke-width="3.9"/>
<rect x="1601.3" y="1339.0" width="11.6" height="11.6" fill="none" stroke="#0a32f5" stroke-width="3.9"/>
<rect x="1613.7" y="1339.0" width="11.6" height="11.6" fill="none" stroke="#0a32f5" stroke-width="3.9"/>
<rect x="1626.1" y="1339.0" width="11.6" height="11.6" fill="none" stroke="#0a32f5" stroke-width="3.9"/>
<rect x="1638.4" y="1339.0" width="11.6" height="11.6" fill="none" stroke="#0a32f5" stroke-width="3.9"/>
<rect x="1650.8" y="1339.0" width="11.6" height="11.6" fill="none" stroke="#0a32f5" stroke-width="3.9"/>
<rect x="1663.2" y="1339.0" width="11.6" height="11.6" fill="none" stroke="#0a32f5" stroke-width="3.9"/>
<rect x="1569.2" y="1347.7" width="11.6" height="11.6" fill="none" stroke="#0a32f5" stroke-width="3.9"/>
<rect x="1582.1" y="1347.7" width="11.6" height="11.6" fill="none" stroke="#0a32f5" stroke-width="3.9"/>
<rect x="1594.9" y="1347.7" width="11.6" height="11.6" fill="none" stroke="#0a32f5" stroke-width="3.9"/>
<rect x="1607.8" y="1347.7" width="11.6" height="11.6" fill="none" stroke="#0a32f5" stroke-width="3.9"/>
<rect x="1620.6" y="1347.7" width="11.6" height="11.6" fill="none" stroke="#0a32f5" stroke-width="3.9"/>
<rect x="1633.5" y="1347.7" width="11.6" height="11.6" fill="none" stroke="#0a32f5" stroke-width="3.9"/>
<rect x="1646.3" y="1347.7" width="11.6" height="11.6" fill="none" stroke="#0a32f5" stroke-width="3.9"/>
<rect x="1659.2" y="1347.7" width="11.6" height="11.6" fill="none" stroke="#0a32f5" stroke-width="3.9"/>
<rect x="1580.2" y="1355.7" width="11.6" height="11.6" fill="none" stroke="#0a32f5" stroke-width="3.9"/>
<rect x="1593.8" y="1355.7" width="11.6" height="11.6" fill="none" stroke="#0a32f5" stroke-width="3.9"/>
<rect x="1607.4" y="1355.7" width="11.6" height="11.6" fill="none" stroke="#0a32f5" stroke-width="3.9"/>
<rect x="1621.0" y="1355.7" width="11.6" height="11.6" fill="none" stroke="#0a32f5" stroke-width="3.9"/>
<rect x="1634.6" y="1355.7" width="11.6" height="11.6" fill="none" stroke="#0a32f5" stroke-width="3.9"/>
<rect x="1648.2" y="1355.7" width="11.6" height="11.6" fill="none" stroke="#0a32f5" stroke-width="3.9"/>
<rect x="1602.2" y="1361.7" width="11.6" height="11.6" fill="none" stroke="#0a32f5" stroke-width="3.9"/>
<rect x="1613.7" y="1361.7" width="11.6" height="11.6" fill="none" stroke="#0a32f5" stroke-width="3.9"/>
<rect x="1625.2" y="1361.7" width="11.6" height="11.6" fill="none" stroke="#0a32f5" stroke-width="3.9"/>
<rect x="1594.2" y="1369.0" width="11.6" height="11.6" fill="none" stroke="#0a32f5" stroke-width="3.9"/>
<rect x="1631.8" y="1370.8" width="11.6" height="11.6" fill="none" stroke="#0a32f5" stroke-width="3.9"/>
<rect x="1613.4" y="1384.8" width="11.6" height="11.6" fill="none" stroke="#0a32f5" stroke-width="3.9"/>
<line x1="1108.7" y1="1308.0" x2="1207.1" y2="1308.0" stroke="#000" stroke-width="3.6" stroke-linecap="round"/>
<line x1="1157.9" y1="1288.5" x2="1157.9" y2="1327.0" stroke="#000" stroke-width="3.2" stroke-linecap="butt"/>
<line x1="1133.1" y1="1288.5" x2="1182.7" y2="1288.5" stroke="#000" stroke-width="3.4" stroke-linecap="round"/>
<line x1="1133.1" y1="1327.0" x2="1182.7" y2="1327.0" stroke="#000" stroke-width="3.4" stroke-linecap="round"/>
<line x1="1262.4" y1="1344.8" x2="1361.0" y2="1344.8" stroke="#000" stroke-width="3.6" stroke-linecap="round"/>
<line x1="1311.7" y1="1336.3" x2="1311.7" y2="1352.9" stroke="#000" stroke-width="3.2" stroke-linecap="butt"/>
<line x1="1287.3" y1="1336.3" x2="1336.1" y2="1336.3" stroke="#000" stroke-width="3.4" stroke-linecap="round"/>
<line x1="1287.3" y1="1352.9" x2="1336.1" y2="1352.9" stroke="#000" stroke-width="3.4" stroke-linecap="round"/>
<line x1="1416.1" y1="1301.4" x2="1515.5" y2="1301.4" stroke="#000" stroke-width="3.6" stroke-linecap="round"/>
<line x1="1465.8" y1="1280.7" x2="1465.8" y2="1322.6" stroke="#000" stroke-width="3.2" stroke-linecap="butt"/>
<line x1="1440.6" y1="1280.7" x2="1491.0" y2="1280.7" stroke="#000" stroke-width="3.4" stroke-linecap="round"/>
<line x1="1440.6" y1="1322.6" x2="1491.0" y2="1322.6" stroke="#000" stroke-width="3.4" stroke-linecap="round"/>
<line x1="1569.4" y1="1349.9" x2="1669.0" y2="1349.9" stroke="#000" stroke-width="3.6" stroke-linecap="round"/>
<line x1="1619.2" y1="1343.4" x2="1619.2" y2="1356.0" stroke="#000" stroke-width="3.2" stroke-linecap="butt"/>
<line x1="1593.8" y1="1343.4" x2="1644.6" y2="1343.4" stroke="#000" stroke-width="3.4" stroke-linecap="round"/>
<line x1="1593.8" y1="1356.0" x2="1644.6" y2="1356.0" stroke="#000" stroke-width="3.4" stroke-linecap="round"/>
<path d="M201.8,1864.4 L201.8,2277.5 L814.1,2277.5" fill="none" stroke="#000" stroke-width="5.8" stroke-linejoin="miter"/>
<line x1="814.0" y1="2277.5" x2="814.1" y2="2277.5" stroke="#000" stroke-width="5.8" stroke-linecap="round"/>
<line x1="186.3" y1="2277.5" x2="201.8" y2="2277.5" stroke="#000" stroke-width="5.4" stroke-linecap="butt"/>
<text x="184.8" y="2289.5" font-size="31" text-anchor="end" font-family="'Liberation Sans', Arial, sans-serif" font-weight="normal" font-style="normal" fill="#000" >0</text>
<line x1="186.3" y1="2174.9" x2="201.8" y2="2174.9" stroke="#000" stroke-width="5.4" stroke-linecap="butt"/>
<text x="184.8" y="2186.9" font-size="31" text-anchor="end" font-family="'Liberation Sans', Arial, sans-serif" font-weight="normal" font-style="normal" fill="#000" >20</text>
<line x1="186.3" y1="2072.4" x2="201.8" y2="2072.4" stroke="#000" stroke-width="5.4" stroke-linecap="butt"/>
<text x="184.8" y="2084.4" font-size="31" text-anchor="end" font-family="'Liberation Sans', Arial, sans-serif" font-weight="normal" font-style="normal" fill="#000" >40</text>
<line x1="186.3" y1="1969.8" x2="201.8" y2="1969.8" stroke="#000" stroke-width="5.4" stroke-linecap="butt"/>
<text x="184.8" y="1981.8" font-size="31" text-anchor="end" font-family="'Liberation Sans', Arial, sans-serif" font-weight="normal" font-style="normal" fill="#000" >60</text>
<line x1="186.3" y1="1867.3" x2="201.8" y2="1867.3" stroke="#000" stroke-width="5.4" stroke-linecap="butt"/>
<text x="184.8" y="1879.3" font-size="31" text-anchor="end" font-family="'Liberation Sans', Arial, sans-serif" font-weight="normal" font-style="normal" fill="#000" >80</text>
<line x1="277.6" y1="2277.5" x2="277.6" y2="2291.0" stroke="#000" stroke-width="5.2" stroke-linecap="round"/>
<line x1="431.8" y1="2277.5" x2="431.8" y2="2291.0" stroke="#000" stroke-width="5.2" stroke-linecap="round"/>
<line x1="584.4" y1="2277.5" x2="584.4" y2="2291.0" stroke="#000" stroke-width="5.2" stroke-linecap="round"/>
<line x1="739.7" y1="2277.5" x2="739.7" y2="2291.0" stroke="#000" stroke-width="5.2" stroke-linecap="round"/>
<path d="M275.0,1841.0 L275.0,1798.5 L430.0,1798.5 L430.0,1841.0" fill="none" stroke="#000" stroke-width="6" stroke-linejoin="miter" stroke-linecap="round"/>
<text x="352.5" y="1785.4" font-size="50" text-anchor="middle" font-family="'Liberation Sans', Arial, sans-serif" font-weight="bold" font-style="normal" fill="#000" >*</text>
<text x="73.0" y="1796.7" font-size="28.8" text-anchor="start" font-family="'Liberation Sans', Arial, sans-serif" font-weight="normal" font-style="italic" fill="#000" >µM-GSH</text>
<text x="73.0" y="1832.4" font-size="27" text-anchor="start" font-family="'Liberation Sans', Arial, sans-serif" font-weight="normal" font-style="italic" fill="#000" >equivalent</text>
<text x="277.6" y="2374.8" font-size="40" text-anchor="middle" font-family="'Liberation Sans', Arial, sans-serif" font-weight="normal" font-style="normal" fill="#000" >ASD</text>
<text x="431.8" y="2374.8" font-size="40" text-anchor="middle" font-family="'Liberation Sans', Arial, sans-serif" font-weight="normal" font-style="normal" fill="#000" >TD</text>
<text x="584.4" y="2374.8" font-size="40" text-anchor="middle" font-family="'Liberation Sans', Arial, sans-serif" font-weight="normal" font-style="normal" fill="#000" >ASD</text>
<text x="739.7" y="2374.8" font-size="40" text-anchor="middle" font-family="'Liberation Sans', Arial, sans-serif" font-weight="normal" font-style="normal" fill="#000" >TD</text>
<line x1="247.5" y1="2407.2" x2="477.7" y2="2407.2" stroke="#000" stroke-width="6.3" stroke-linecap="round"/>
<line x1="554.2" y1="2407.2" x2="785.4" y2="2407.2" stroke="#000" stroke-width="6.3" stroke-linecap="round"/>
<text x="351.5" y="2460.3" font-size="40" text-anchor="middle" font-family="'Liberation Sans', Arial, sans-serif" font-weight="normal" font-style="normal" fill="#000" >Total</text>
<text x="661.6" y="2460.3" font-size="40" text-anchor="middle" font-family="'Liberation Sans', Arial, sans-serif" font-weight="normal" font-style="normal" fill="#000" >6 y.o. and under</text>
<circle cx="278.7" cy="2061.9" r="6.3" fill="#f52a0a"/>
<circle cx="278.7" cy="2107.7" r="6.3" fill="#f52a0a"/>
<circle cx="278.7" cy="2127.6" r="6.3" fill="#f52a0a"/>
<circle cx="241.4" cy="2135.6" r="6.3" fill="#f52a0a"/>
<circle cx="297.1" cy="2138.6" r="6.3" fill="#f52a0a"/>
<circle cx="315.0" cy="2133.6" r="6.3" fill="#f52a0a"/>
<circle cx="235.4" cy="2154.5" r="6.3" fill="#f52a0a"/>
<circle cx="259.8" cy="2151.5" r="6.3" fill="#f52a0a"/>
<circle cx="278.7" cy="2152.0" r="6.3" fill="#f52a0a"/>
<circle cx="249.8" cy="2162.9" r="6.3" fill="#f52a0a"/>
<circle cx="307.0" cy="2163.4" r="6.3" fill="#f52a0a"/>
<circle cx="322.0" cy="2160.0" r="6.3" fill="#f52a0a"/>
<circle cx="264.3" cy="2170.4" r="6.3" fill="#f52a0a"/>
<circle cx="278.7" cy="2170.4" r="6.3" fill="#f52a0a"/>
<circle cx="292.6" cy="2170.9" r="6.3" fill="#f52a0a"/>
<circle cx="319.5" cy="2174.9" r="6.3" fill="#f52a0a"/>
<circle cx="237.4" cy="2179.4" r="6.3" fill="#f52a0a"/>
<circle cx="246.1" cy="2181.2" r="6.3" fill="#f52a0a"/>
<circle cx="254.8" cy="2182.9" r="6.3" fill="#f52a0a"/>
<circle cx="263.4" cy="2184.7" r="6.3" fill="#f52a0a"/>
<circle cx="272.1" cy="2186.4" r="6.3" fill="#f52a0a"/>
<circle cx="280.8" cy="2186.7" r="6.3" fill="#f52a0a"/>
<circle cx="289.5" cy="2185.4" r="6.3" fill="#f52a0a"/>
<circle cx="298.1" cy="2184.1" r="6.3" fill="#f52a0a"/>
<circle cx="306.8" cy="2182.8" r="6.3" fill="#f52a0a"/>
<circle cx="315.5" cy="2181.5" r="6.3" fill="#f52a0a"/>
<circle cx="235.4" cy="2196.8" r="6.3" fill="#f52a0a"/>
<circle cx="249.8" cy="2204.7" r="6.3" fill="#f52a0a"/>
<circle cx="321.5" cy="2204.2" r="6.3" fill="#f52a0a"/>
<circle cx="264.3" cy="2212.7" r="6.3" fill="#f52a0a"/>
<circle cx="278.7" cy="2214.7" r="6.3" fill="#f52a0a"/>
<circle cx="292.6" cy="2212.7" r="6.3" fill="#f52a0a"/>
<circle cx="307.0" cy="2210.7" r="6.3" fill="#f52a0a"/>
<circle cx="319.5" cy="2219.2" r="6.3" fill="#f52a0a"/>
<circle cx="237.4" cy="2221.1" r="6.3" fill="#f52a0a"/>
<circle cx="246.8" cy="2222.1" r="6.3" fill="#f52a0a"/>
<circle cx="257.3" cy="2226.1" r="6.3" fill="#f52a0a"/>
<circle cx="268.2" cy="2229.6" r="6.3" fill="#f52a0a"/>
<circle cx="278.7" cy="2233.1" r="6.3" fill="#f52a0a"/>
<circle cx="289.1" cy="2230.1" r="6.3" fill="#f52a0a"/>
<circle cx="299.6" cy="2223.1" r="6.3" fill="#f52a0a"/>
<circle cx="309.0" cy="2222.1" r="6.3" fill="#f52a0a"/>
<circle cx="250.3" cy="2244.5" r="6.3" fill="#f52a0a"/>
<circle cx="306.0" cy="2242.5" r="6.3" fill="#f52a0a"/>
<circle cx="287.6" cy="2247.5" r="6.3" fill="#f52a0a"/>
<circle cx="269.2" cy="2256.0" r="6.3" fill="#f52a0a"/>
<rect x="425.9" y="1941.5" width="12.5" height="12.5" fill="#0a32f5"/>
<rect x="425.9" y="2020.8" width="12.5" height="12.5" fill="#0a32f5"/>
<rect x="382.9" y="2056.9" width="12.5" height="12.5" fill="#0a32f5"/>
<rect x="416.6" y="2052.2" width="12.5" height="12.5" fill="#0a32f5"/>
<rect x="434.9" y="2052.2" width="12.5" height="12.5" fill="#0a32f5"/>
<rect x="469.4" y="2059.3" width="12.5" height="12.5" fill="#0a32f5"/>
<rect x="397.2" y="2064.2" width="12.5" height="12.5" fill="#0a32f5"/>
<rect x="455.1" y="2064.2" width="12.5" height="12.5" fill="#0a32f5"/>
<rect x="411.8" y="2071.3" width="12.5" height="12.5" fill="#0a32f5"/>
<rect x="425.9" y="2073.8" width="12.5" height="12.5" fill="#0a32f5"/>
<rect x="440.6" y="2073.1" width="12.5" height="12.5" fill="#0a32f5"/>
<rect x="398.1" y="2084.2" width="12.5" height="12.5" fill="#0a32f5"/>
<rect x="416.6" y="2096.2" width="12.5" height="12.5" fill="#0a32f5"/>
<rect x="434.9" y="2101.1" width="12.5" height="12.5" fill="#0a32f5"/>
<rect x="453.4" y="2096.2" width="12.5" height="12.5" fill="#0a32f5"/>
<rect x="389.2" y="2105.9" width="12.5" height="12.5" fill="#0a32f5"/>
<rect x="406.9" y="2113.9" width="12.5" height="12.5" fill="#0a32f5"/>
<rect x="444.6" y="2117.2" width="12.5" height="12.5" fill="#0a32f5"/>
<rect x="463.1" y="2112.3" width="12.5" height="12.5" fill="#0a32f5"/>
<rect x="425.9" y="2121.9" width="12.5" height="12.5" fill="#0a32f5"/>
<rect x="416.6" y="2133.9" width="12.5" height="12.5" fill="#0a32f5"/>
<rect x="434.9" y="2142.1" width="12.5" height="12.5" fill="#0a32f5"/>
<rect x="382.9" y="2147.7" width="12.5" height="12.5" fill="#0a32f5"/>
<rect x="469.4" y="2146.8" width="12.5" height="12.5" fill="#0a32f5"/>
<rect x="399.6" y="2154.8" width="12.5" height="12.5" fill="#0a32f5"/>
<rect x="451.9" y="2154.1" width="12.5" height="12.5" fill="#0a32f5"/>
<rect x="416.6" y="2161.2" width="12.5" height="12.5" fill="#0a32f5"/>
<rect x="434.9" y="2159.7" width="12.5" height="12.5" fill="#0a32f5"/>
<rect x="382.9" y="2170.9" width="12.5" height="12.5" fill="#0a32f5"/>
<rect x="393.6" y="2176.9" width="12.5" height="12.5" fill="#0a32f5"/>
<rect x="404.6" y="2181.2" width="12.5" height="12.5" fill="#0a32f5"/>
<rect x="415.4" y="2183.8" width="12.5" height="12.5" fill="#0a32f5"/>
<rect x="426.1" y="2184.6" width="12.5" height="12.5" fill="#0a32f5"/>
<rect x="436.9" y="2183.6" width="12.5" height="12.5" fill="#0a32f5"/>
<rect x="447.9" y="2180.8" width="12.5" height="12.5" fill="#0a32f5"/>
<rect x="458.6" y="2175.9" width="12.5" height="12.5" fill="#0a32f5"/>
<rect x="469.4" y="2169.2" width="12.5" height="12.5" fill="#0a32f5"/>
<rect x="389.2" y="2194.9" width="12.5" height="12.5" fill="#0a32f5"/>
<rect x="399.8" y="2199.2" width="12.5" height="12.5" fill="#0a32f5"/>
<rect x="410.4" y="2202.2" width="12.5" height="12.5" fill="#0a32f5"/>
<rect x="420.9" y="2203.6" width="12.5" height="12.5" fill="#0a32f5"/>
<rect x="431.4" y="2203.4" width="12.5" height="12.5" fill="#0a32f5"/>
<rect x="441.9" y="2201.3" width="12.5" height="12.5" fill="#0a32f5"/>
<rect x="452.6" y="2197.2" width="12.5" height="12.5" fill="#0a32f5"/>
<rect x="463.1" y="2190.9" width="12.5" height="12.5" fill="#0a32f5"/>
<rect x="382.9" y="2212.7" width="12.5" height="12.5" fill="#0a32f5"/>
<rect x="397.2" y="2217.4" width="12.5" height="12.5" fill="#0a32f5"/>
<rect x="455.1" y="2213.4" width="12.5" height="12.5" fill="#0a32f5"/>
<rect x="469.4" y="2211.1" width="12.5" height="12.5" fill="#0a32f5"/>
<rect x="411.8" y="2228.7" width="12.5" height="12.5" fill="#0a32f5"/>
<rect x="425.9" y="2228.7" width="12.5" height="12.5" fill="#0a32f5"/>
<rect x="440.6" y="2228.7" width="12.5" height="12.5" fill="#0a32f5"/>
<rect x="425.9" y="2260.8" width="12.5" height="12.5" fill="#0a32f5"/>
<circle cx="586.0" cy="2135.6" r="5.6" fill="none" stroke="#f52a0a" stroke-width="4"/>
<circle cx="549.2" cy="2163.4" r="5.6" fill="none" stroke="#f52a0a" stroke-width="4"/>
<circle cx="567.2" cy="2171.0" r="5.6" fill="none" stroke="#f52a0a" stroke-width="4"/>
<circle cx="604.7" cy="2171.0" r="5.6" fill="none" stroke="#f52a0a" stroke-width="4"/>
<circle cx="623.5" cy="2171.0" r="5.6" fill="none" stroke="#f52a0a" stroke-width="4"/>
<circle cx="576.6" cy="2180.0" r="5.6" fill="none" stroke="#f52a0a" stroke-width="4"/>
<circle cx="594.6" cy="2180.0" r="5.6" fill="none" stroke="#f52a0a" stroke-width="4"/>
<circle cx="553.5" cy="2186.8" r="5.6" fill="none" stroke="#f52a0a" stroke-width="4"/>
<circle cx="567.2" cy="2189.0" r="5.6" fill="none" stroke="#f52a0a" stroke-width="4"/>
<circle cx="604.7" cy="2188.6" r="5.6" fill="none" stroke="#f52a0a" stroke-width="4"/>
<circle cx="618.1" cy="2186.8" r="5.6" fill="none" stroke="#f52a0a" stroke-width="4"/>
<circle cx="578.0" cy="2198.7" r="5.6" fill="none" stroke="#f52a0a" stroke-width="4"/>
<circle cx="592.5" cy="2196.6" r="5.6" fill="none" stroke="#f52a0a" stroke-width="4"/>
<circle cx="567.2" cy="2216.1" r="5.6" fill="none" stroke="#f52a0a" stroke-width="4"/>
<circle cx="604.7" cy="2213.2" r="5.6" fill="none" stroke="#f52a0a" stroke-width="4"/>
<circle cx="586.0" cy="2222.2" r="5.6" fill="none" stroke="#f52a0a" stroke-width="4"/>
<circle cx="558.5" cy="2229.4" r="5.6" fill="none" stroke="#f52a0a" stroke-width="4"/>
<circle cx="595.3" cy="2230.5" r="5.6" fill="none" stroke="#f52a0a" stroke-width="4"/>
<circle cx="614.1" cy="2226.2" r="5.6" fill="none" stroke="#f52a0a" stroke-width="4"/>
<circle cx="576.6" cy="2243.1" r="5.6" fill="none" stroke="#f52a0a" stroke-width="4"/>
<rect x="734.3" y="2065.5" width="11.6" height="11.6" fill="none" stroke="#0a32f5" stroke-width="3.9"/>
<rect x="743.3" y="2114.3" width="11.6" height="11.6" fill="none" stroke="#0a32f5" stroke-width="3.9"/>
<rect x="724.4" y="2123.4" width="11.6" height="11.6" fill="none" stroke="#0a32f5" stroke-width="3.9"/>
<rect x="696.3" y="2148.7" width="11.6" height="11.6" fill="none" stroke="#0a32f5" stroke-width="3.9"/>
<rect x="715.3" y="2154.6" width="11.6" height="11.6" fill="none" stroke="#0a32f5" stroke-width="3.9"/>
<rect x="752.4" y="2154.1" width="11.6" height="11.6" fill="none" stroke="#0a32f5" stroke-width="3.9"/>
<rect x="771.4" y="2147.3" width="11.6" height="11.6" fill="none" stroke="#0a32f5" stroke-width="3.9"/>
<rect x="734.3" y="2161.3" width="11.6" height="11.6" fill="none" stroke="#0a32f5" stroke-width="3.9"/>
<rect x="690.9" y="2169.5" width="11.6" height="11.6" fill="none" stroke="#0a32f5" stroke-width="3.9"/>
<rect x="705.4" y="2171.3" width="11.6" height="11.6" fill="none" stroke="#0a32f5" stroke-width="3.9"/>
<rect x="776.8" y="2170.8" width="11.6" height="11.6" fill="none" stroke="#0a32f5" stroke-width="3.9"/>
<rect x="689.5" y="2188.0" width="11.6" height="11.6" fill="none" stroke="#0a32f5" stroke-width="3.9"/>
<rect x="702.2" y="2189.2" width="11.6" height="11.6" fill="none" stroke="#0a32f5" stroke-width="3.9"/>
<rect x="718.9" y="2188.0" width="11.6" height="11.6" fill="none" stroke="#0a32f5" stroke-width="3.9"/>
<rect x="734.3" y="2188.0" width="11.6" height="11.6" fill="none" stroke="#0a32f5" stroke-width="3.9"/>
<rect x="747.0" y="2188.0" width="11.6" height="11.6" fill="none" stroke="#0a32f5" stroke-width="3.9"/>
<rect x="762.3" y="2188.0" width="11.6" height="11.6" fill="none" stroke="#0a32f5" stroke-width="3.9"/>
<rect x="777.2" y="2188.0" width="11.6" height="11.6" fill="none" stroke="#0a32f5" stroke-width="3.9"/>
<rect x="696.2" y="2194.2" width="11.6" height="11.6" fill="none" stroke="#0a32f5" stroke-width="3.9"/>
<rect x="706.6" y="2199.1" width="11.6" height="11.6" fill="none" stroke="#0a32f5" stroke-width="3.9"/>
<rect x="717.1" y="2202.4" width="11.6" height="11.6" fill="none" stroke="#0a32f5" stroke-width="3.9"/>
<rect x="727.5" y="2204.0" width="11.6" height="11.6" fill="none" stroke="#0a32f5" stroke-width="3.9"/>
<rect x="737.9" y="2204.0" width="11.6" height="11.6" fill="none" stroke="#0a32f5" stroke-width="3.9"/>
<rect x="748.3" y="2202.4" width="11.6" height="11.6" fill="none" stroke="#0a32f5" stroke-width="3.9"/>
<rect x="758.8" y="2199.1" width="11.6" height="11.6" fill="none" stroke="#0a32f5" stroke-width="3.9"/>
<rect x="769.2" y="2194.2" width="11.6" height="11.6" fill="none" stroke="#0a32f5" stroke-width="3.9"/>
<rect x="696.3" y="2219.7" width="11.6" height="11.6" fill="none" stroke="#0a32f5" stroke-width="3.9"/>
<rect x="771.4" y="2218.8" width="11.6" height="11.6" fill="none" stroke="#0a32f5" stroke-width="3.9"/>
<rect x="715.3" y="2234.1" width="11.6" height="11.6" fill="none" stroke="#0a32f5" stroke-width="3.9"/>
<rect x="734.3" y="2234.1" width="11.6" height="11.6" fill="none" stroke="#0a32f5" stroke-width="3.9"/>
<rect x="752.4" y="2234.1" width="11.6" height="11.6" fill="none" stroke="#0a32f5" stroke-width="3.9"/>
<line x1="229.2" y1="2188.3" x2="328.2" y2="2188.3" stroke="#000" stroke-width="3.6" stroke-linecap="round"/>
<line x1="278.7" y1="2176.4" x2="278.7" y2="2199.8" stroke="#000" stroke-width="3.2" stroke-linecap="butt"/>
<line x1="253.8" y1="2176.4" x2="303.6" y2="2176.4" stroke="#000" stroke-width="3.4" stroke-linecap="round"/>
<line x1="253.8" y1="2199.8" x2="303.6" y2="2199.8" stroke="#000" stroke-width="3.4" stroke-linecap="round"/>
<line x1="382.6" y1="2153.9" x2="481.6" y2="2153.9" stroke="#000" stroke-width="3.6" stroke-linecap="round"/>
<line x1="432.1" y1="2137.0" x2="432.1" y2="2170.7" stroke="#000" stroke-width="3.2" stroke-linecap="butt"/>
<line x1="407.1" y1="2137.0" x2="457.1" y2="2137.0" stroke="#000" stroke-width="3.4" stroke-linecap="round"/>
<line x1="407.1" y1="2170.7" x2="457.1" y2="2170.7" stroke="#000" stroke-width="3.4" stroke-linecap="round"/>
<line x1="537.3" y1="2195.1" x2="635.3" y2="2195.1" stroke="#000" stroke-width="3.6" stroke-linecap="round"/>
<line x1="586.3" y1="2182.2" x2="586.3" y2="2207.4" stroke="#000" stroke-width="3.2" stroke-linecap="butt"/>
<line x1="561.8" y1="2182.2" x2="610.8" y2="2182.2" stroke="#000" stroke-width="3.4" stroke-linecap="round"/>
<line x1="561.8" y1="2207.4" x2="610.8" y2="2207.4" stroke="#000" stroke-width="3.4" stroke-linecap="round"/>
<line x1="691.4" y1="2185.7" x2="788.8" y2="2185.7" stroke="#000" stroke-width="3.6" stroke-linecap="round"/>
<line x1="740.1" y1="2173.0" x2="740.1" y2="2199.2" stroke="#000" stroke-width="3.2" stroke-linecap="butt"/>
<line x1="715.4" y1="2173.0" x2="764.8" y2="2173.0" stroke="#000" stroke-width="3.4" stroke-linecap="round"/>
<line x1="715.4" y1="2199.2" x2="764.8" y2="2199.2" stroke="#000" stroke-width="3.4" stroke-linecap="round"/>
<text x="10.4" y="42.2" font-size="53" text-anchor="start" font-family="'DejaVu Sans', 'Liberation Sans', sans-serif" font-weight="normal" font-style="normal" fill="#000" >A</text>
<text x="88.8" y="31.9" font-size="42" text-anchor="middle" font-family="'DejaVu Sans', 'Liberation Sans', sans-serif" font-weight="normal" font-style="normal" fill="#000" >•</text>
<text x="104.5" y="42.5" font-size="53" text-anchor="start" font-family="'DejaVu Sans', 'Liberation Sans', sans-serif" font-weight="normal" font-style="normal" fill="#000" >OH</text>
<text x="895.0" y="42.4" font-size="53" text-anchor="start" font-family="'DejaVu Sans', 'Liberation Sans', sans-serif" font-weight="normal" font-style="normal" fill="#000" >B</text>
<text x="974.0" y="42.4" font-size="53" text-anchor="start" font-family="'DejaVu Sans', 'Liberation Sans', sans-serif" font-weight="normal" font-style="normal" fill="#000" >RO</text>
<text x="1063.5" y="32.5" font-size="42" text-anchor="middle" font-family="'DejaVu Sans', 'Liberation Sans', sans-serif" font-weight="normal" font-style="normal" fill="#000" >•</text>
<text x="10.1" y="882.3" font-size="53" text-anchor="start" font-family="'DejaVu Sans', 'Liberation Sans', sans-serif" font-weight="normal" font-style="normal" fill="#000" >C</text>
<text x="89.3" y="882.3" font-size="53" text-anchor="start" font-family="'DejaVu Sans', 'Liberation Sans', sans-serif" font-weight="normal" font-style="normal" fill="#000" >ROO</text>
<text x="220.2" y="870.4" font-size="38" text-anchor="middle" font-family="'DejaVu Sans', 'Liberation Sans', sans-serif" font-weight="normal" font-style="normal" fill="#000" >•</text>
<text x="895.7" y="882.3" font-size="53" text-anchor="start" font-family="'DejaVu Sans', 'Liberation Sans', sans-serif" font-weight="normal" font-style="normal" fill="#000" >D</text>
<text x="979.6" y="882.6" font-size="53" text-anchor="start" font-family="'DejaVu Sans', 'Liberation Sans', sans-serif" font-weight="normal" font-style="normal" fill="#000" >O</text>
<text x="1021.0" y="892.8" font-size="38.5" text-anchor="start" font-family="'DejaVu Sans', 'Liberation Sans', sans-serif" font-weight="normal" font-style="normal" fill="#000" >2</text>
<text x="1053.0" y="870.7" font-size="38" text-anchor="middle" font-family="'DejaVu Sans', 'Liberation Sans', sans-serif" font-weight="normal" font-style="normal" fill="#000" >•</text>
<text x="1062.0" y="866.0" font-size="24" text-anchor="start" font-family="'DejaVu Sans', 'Liberation Sans', sans-serif" font-weight="normal" font-style="normal" fill="#000" >-</text>
<text x="10.4" y="1733.4" font-size="53" text-anchor="start" font-family="'DejaVu Sans', 'Liberation Sans', sans-serif" font-weight="normal" font-style="normal" fill="#000" >E</text>
<text x="86.0" y="1717.7" font-size="36" text-anchor="start" font-family="'DejaVu Sans', 'Liberation Sans', sans-serif" font-weight="normal" font-style="normal" fill="#000" >1</text>
<text x="109.7" y="1733.6" font-size="53" text-anchor="start" font-family="'DejaVu Sans', 'Liberation Sans', sans-serif" font-weight="normal" font-style="normal" fill="#000" >O</text>
<text x="150.5" y="1744.1" font-size="38.5" text-anchor="start" font-family="'DejaVu Sans', 'Liberation Sans', sans-serif" font-weight="normal" font-style="normal" fill="#000" >2</text>
<text x="895.3" y="1734.0" font-size="53" text-anchor="start" font-family="'DejaVu Sans', 'Liberation Sans', sans-serif" font-weight="normal" font-style="normal" fill="#000" >F</text>
<text x="951.0" y="1817.2" font-size="55" text-anchor="start" font-family="'DejaVu Sans', 'Liberation Sans', sans-serif" font-weight="normal" font-style="normal" fill="#000" >a</text>
<text x="1445.0" y="1817.2" font-size="55" text-anchor="start" font-family="'DejaVu Sans', 'Liberation Sans', sans-serif" font-weight="normal" font-style="normal" fill="#000" >b</text>
<line x1="1191.0" y1="2081.2" x2="1191.0" y2="1867.1" stroke="#bcbcbc" stroke-width="1.6" stroke-linecap="butt"/>
<line x1="1198.0" y1="2016.7" x2="1184.0" y2="2016.7" stroke="#b4b4b4" stroke-width="1.5" stroke-linecap="butt"/>
<line x1="1198.0" y1="1952.2" x2="1184.0" y2="1952.2" stroke="#b4b4b4" stroke-width="1.5" stroke-linecap="butt"/>
<line x1="1198.0" y1="1887.7" x2="1184.0" y2="1887.7" stroke="#b4b4b4" stroke-width="1.5" stroke-linecap="butt"/>
<line x1="1191.0" y1="2081.2" x2="1394.7" y2="2015.0" stroke="#bcbcbc" stroke-width="1.6" stroke-linecap="butt"/>
<line x1="1254.5" y1="2067.9" x2="1250.2" y2="2054.6" stroke="#b4b4b4" stroke-width="1.5" stroke-linecap="butt"/>
<line x1="1315.8" y1="2048.0" x2="1311.5" y2="2034.7" stroke="#b4b4b4" stroke-width="1.5" stroke-linecap="butt"/>
<line x1="1377.2" y1="2028.1" x2="1372.9" y2="2014.7" stroke="#b4b4b4" stroke-width="1.5" stroke-linecap="butt"/>
<line x1="1191.0" y1="2081.2" x2="1316.9" y2="2254.4" stroke="#bcbcbc" stroke-width="1.6" stroke-linecap="butt"/>
<line x1="1223.2" y1="2137.5" x2="1234.6" y2="2129.3" stroke="#b4b4b4" stroke-width="1.5" stroke-linecap="butt"/>
<line x1="1261.2" y1="2189.7" x2="1272.5" y2="2181.4" stroke="#b4b4b4" stroke-width="1.5" stroke-linecap="butt"/>
<line x1="1299.1" y1="2241.9" x2="1310.4" y2="2233.6" stroke="#b4b4b4" stroke-width="1.5" stroke-linecap="butt"/>
<line x1="1191.0" y1="2081.2" x2="1065.1" y2="2254.4" stroke="#bcbcbc" stroke-width="1.6" stroke-linecap="butt"/>
<line x1="1147.4" y1="2129.3" x2="1158.8" y2="2137.5" stroke="#b4b4b4" stroke-width="1.5" stroke-linecap="butt"/>
<line x1="1109.5" y1="2181.4" x2="1120.8" y2="2189.7" stroke="#b4b4b4" stroke-width="1.5" stroke-linecap="butt"/>
<line x1="1071.6" y1="2233.6" x2="1082.9" y2="2241.9" stroke="#b4b4b4" stroke-width="1.5" stroke-linecap="butt"/>
<line x1="1191.0" y1="2081.2" x2="987.3" y2="2015.0" stroke="#bcbcbc" stroke-width="1.6" stroke-linecap="butt"/>
<line x1="1131.8" y1="2054.6" x2="1127.5" y2="2067.9" stroke="#b4b4b4" stroke-width="1.5" stroke-linecap="butt"/>
<line x1="1070.5" y1="2034.7" x2="1066.2" y2="2048.0" stroke="#b4b4b4" stroke-width="1.5" stroke-linecap="butt"/>
<line x1="1009.1" y1="2014.7" x2="1004.8" y2="2028.1" stroke="#b4b4b4" stroke-width="1.5" stroke-linecap="butt"/>
<polygon points="1191.0,1952.2 1313.7,2041.3 1266.8,2185.6 1115.2,2185.6 1068.3,2041.3" fill="none" stroke="#1f6fb9" stroke-width="3.3" stroke-linejoin="miter"/>
<polygon points="1191.0,1994.1 1340.7,2032.6 1282.0,2206.4 1087.1,2224.2 1101.4,2052.1" fill="none" stroke="#f0401e" stroke-width="3.3" stroke-linejoin="miter"/>
<circle cx="1191.0" cy="1994.1" r="4.3" fill="#fff" stroke="#555" stroke-width="1.3"/>
<circle cx="1340.7" cy="2032.6" r="4.3" fill="#fff" stroke="#555" stroke-width="1.3"/>
<circle cx="1282.0" cy="2206.4" r="4.3" fill="#fff" stroke="#555" stroke-width="1.3"/>
<circle cx="1087.1" cy="2224.2" r="4.3" fill="#fff" stroke="#555" stroke-width="1.3"/>
<circle cx="1101.4" cy="2052.1" r="4.3" fill="#fff" stroke="#555" stroke-width="1.3"/>
<rect x="1186.7" y="1947.9" width="8.6" height="8.6" fill="#fff" stroke="#555" stroke-width="1.3"/>
<rect x="1309.4" y="2037.0" width="8.6" height="8.6" fill="#fff" stroke="#555" stroke-width="1.3"/>
<rect x="1262.5" y="2181.3" width="8.6" height="8.6" fill="#fff" stroke="#555" stroke-width="1.3"/>
<rect x="1110.9" y="2181.3" width="8.6" height="8.6" fill="#fff" stroke="#555" stroke-width="1.3"/>
<rect x="1064.0" y="2037.0" width="8.6" height="8.6" fill="#fff" stroke="#555" stroke-width="1.3"/>
<line x1="1635.8" y1="2075.7" x2="1635.8" y2="1865.7" stroke="#bcbcbc" stroke-width="1.6" stroke-linecap="butt"/>
<line x1="1642.8" y1="2012.4" x2="1628.8" y2="2012.4" stroke="#b4b4b4" stroke-width="1.5" stroke-linecap="butt"/>
<line x1="1642.8" y1="1949.2" x2="1628.8" y2="1949.2" stroke="#b4b4b4" stroke-width="1.5" stroke-linecap="butt"/>
<line x1="1642.8" y1="1885.9" x2="1628.8" y2="1885.9" stroke="#b4b4b4" stroke-width="1.5" stroke-linecap="butt"/>
<line x1="1635.8" y1="2075.7" x2="1835.5" y2="2010.8" stroke="#bcbcbc" stroke-width="1.6" stroke-linecap="butt"/>
<line x1="1698.1" y1="2062.8" x2="1693.8" y2="2049.5" stroke="#b4b4b4" stroke-width="1.5" stroke-linecap="butt"/>
<line x1="1758.3" y1="2043.3" x2="1753.9" y2="2030.0" stroke="#b4b4b4" stroke-width="1.5" stroke-linecap="butt"/>
<line x1="1818.4" y1="2023.7" x2="1814.1" y2="2010.4" stroke="#b4b4b4" stroke-width="1.5" stroke-linecap="butt"/>
<line x1="1635.8" y1="2075.7" x2="1759.2" y2="2245.6" stroke="#bcbcbc" stroke-width="1.6" stroke-linecap="butt"/>
<line x1="1667.3" y1="2131.0" x2="1678.6" y2="2122.8" stroke="#b4b4b4" stroke-width="1.5" stroke-linecap="butt"/>
<line x1="1704.5" y1="2182.2" x2="1715.8" y2="2173.9" stroke="#b4b4b4" stroke-width="1.5" stroke-linecap="butt"/>
<line x1="1741.7" y1="2233.3" x2="1753.0" y2="2225.1" stroke="#b4b4b4" stroke-width="1.5" stroke-linecap="butt"/>
<line x1="1635.8" y1="2075.7" x2="1512.4" y2="2245.6" stroke="#bcbcbc" stroke-width="1.6" stroke-linecap="butt"/>
<line x1="1593.0" y1="2122.8" x2="1604.3" y2="2131.0" stroke="#b4b4b4" stroke-width="1.5" stroke-linecap="butt"/>
<line x1="1555.8" y1="2173.9" x2="1567.1" y2="2182.2" stroke="#b4b4b4" stroke-width="1.5" stroke-linecap="butt"/>
<line x1="1518.6" y1="2225.1" x2="1529.9" y2="2233.3" stroke="#b4b4b4" stroke-width="1.5" stroke-linecap="butt"/>
<line x1="1635.8" y1="2075.7" x2="1436.1" y2="2010.8" stroke="#bcbcbc" stroke-width="1.6" stroke-linecap="butt"/>
<line x1="1577.8" y1="2049.5" x2="1573.5" y2="2062.8" stroke="#b4b4b4" stroke-width="1.5" stroke-linecap="butt"/>
<line x1="1517.7" y1="2030.0" x2="1513.3" y2="2043.3" stroke="#b4b4b4" stroke-width="1.5" stroke-linecap="butt"/>
<line x1="1457.5" y1="2010.4" x2="1453.2" y2="2023.7" stroke="#b4b4b4" stroke-width="1.5" stroke-linecap="butt"/>
<polygon points="1635.8,1949.2 1756.1,2036.6 1710.2,2178.0 1561.4,2178.0 1515.5,2036.6" fill="none" stroke="#1f6fb9" stroke-width="3.3" stroke-linejoin="miter"/>
<polygon points="1635.8,1993.5 1782.6,2028.0 1723.5,2196.5 1523.5,2230.2 1525.1,2039.7" fill="none" stroke="#f0401e" stroke-width="3.3" stroke-linejoin="miter"/>
<circle cx="1635.8" cy="1993.5" r="4.3" fill="#fff" stroke="#555" stroke-width="1.3"/>
<circle cx="1782.6" cy="2028.0" r="4.3" fill="#fff" stroke="#555" stroke-width="1.3"/>
<circle cx="1723.5" cy="2196.5" r="4.3" fill="#fff" stroke="#555" stroke-width="1.3"/>
<circle cx="1523.5" cy="2230.2" r="4.3" fill="#fff" stroke="#555" stroke-width="1.3"/>
<circle cx="1525.1" cy="2039.7" r="4.3" fill="#fff" stroke="#555" stroke-width="1.3"/>
<rect x="1631.5" y="1944.9" width="8.6" height="8.6" fill="#fff" stroke="#555" stroke-width="1.3"/>
<rect x="1751.8" y="2032.3" width="8.6" height="8.6" fill="#fff" stroke="#555" stroke-width="1.3"/>
<rect x="1705.9" y="2173.7" width="8.6" height="8.6" fill="#fff" stroke="#555" stroke-width="1.3"/>
<rect x="1557.1" y="2173.7" width="8.6" height="8.6" fill="#fff" stroke="#555" stroke-width="1.3"/>
<rect x="1511.2" y="2032.3" width="8.6" height="8.6" fill="#fff" stroke="#555" stroke-width="1.3"/>
<text x="1154.3" y="1865.9" font-size="40" text-anchor="start" font-family="'DejaVu Sans', 'Liberation Sans', sans-serif" font-weight="normal" font-style="normal" fill="#000" >·</text>
<text x="1165.9" y="1866.0" font-size="40" text-anchor="start" font-family="'DejaVu Sans', 'Liberation Sans', sans-serif" font-weight="normal" font-style="normal" fill="#000" >OH</text>
<text x="1319.8" y="1985.0" font-size="40" text-anchor="start" font-family="'DejaVu Sans', 'Liberation Sans', sans-serif" font-weight="normal" font-style="normal" fill="#000" >RO</text>
<text x="1388.3" y="1985.8" font-size="40" text-anchor="start" font-family="'DejaVu Sans', 'Liberation Sans', sans-serif" font-weight="normal" font-style="normal" fill="#000" >·</text>
<text x="965.2" y="1975.0" font-size="26" text-anchor="start" font-family="'DejaVu Sans', 'Liberation Sans', sans-serif" font-weight="normal" font-style="normal" fill="#000" >1</text>
<text x="981.6" y="1988.5" font-size="40" text-anchor="start" font-family="'DejaVu Sans', 'Liberation Sans', sans-serif" font-weight="normal" font-style="normal" fill="#000" >O</text>
<text x="1013.3" y="1996.3" font-size="26" text-anchor="start" font-family="'DejaVu Sans', 'Liberation Sans', sans-serif" font-weight="normal" font-style="normal" fill="#000" >2</text>
<text x="997.0" y="2278.7" font-size="40" text-anchor="start" font-family="'DejaVu Sans', 'Liberation Sans', sans-serif" font-weight="normal" font-style="normal" fill="#000" >O</text>
<text x="1028.9" y="2287.3" font-size="26" text-anchor="start" font-family="'DejaVu Sans', 'Liberation Sans', sans-serif" font-weight="normal" font-style="normal" fill="#000" >2</text>
<text x="1054.4" y="2278.6" font-size="40" text-anchor="start" font-family="'DejaVu Sans', 'Liberation Sans', sans-serif" font-weight="normal" font-style="normal" fill="#000" >·</text>
<text x="1066.0" y="2265.0" font-size="28" text-anchor="start" font-family="'DejaVu Sans', 'Liberation Sans', sans-serif" font-weight="normal" font-style="normal" fill="#000" >-</text>
<text x="1303.9" y="2280.5" font-size="40" text-anchor="start" font-family="'DejaVu Sans', 'Liberation Sans', sans-serif" font-weight="normal" font-style="normal" fill="#000" >ROO</text>
<text x="1403.3" y="2280.8" font-size="40" text-anchor="start" font-family="'DejaVu Sans', 'Liberation Sans', sans-serif" font-weight="normal" font-style="normal" fill="#000" >·</text>
<text x="1608.3" y="1863.7" font-size="40" text-anchor="start" font-family="'DejaVu Sans', 'Liberation Sans', sans-serif" font-weight="normal" font-style="normal" fill="#000" >·</text>
<text x="1619.1" y="1863.8" font-size="40" text-anchor="start" font-family="'DejaVu Sans', 'Liberation Sans', sans-serif" font-weight="normal" font-style="normal" fill="#000" >OH</text>
<text x="1773.1" y="1983.1" font-size="40" text-anchor="start" font-family="'DejaVu Sans', 'Liberation Sans', sans-serif" font-weight="normal" font-style="normal" fill="#000" >RO</text>
<text x="1841.4" y="1983.6" font-size="40" text-anchor="start" font-family="'DejaVu Sans', 'Liberation Sans', sans-serif" font-weight="normal" font-style="normal" fill="#000" >·</text>
<text x="1418.8" y="1972.6" font-size="26" text-anchor="start" font-family="'DejaVu Sans', 'Liberation Sans', sans-serif" font-weight="normal" font-style="normal" fill="#000" >1</text>
<text x="1435.9" y="1986.0" font-size="40" text-anchor="start" font-family="'DejaVu Sans', 'Liberation Sans', sans-serif" font-weight="normal" font-style="normal" fill="#000" >O</text>
<text x="1466.7" y="1994.3" font-size="26" text-anchor="start" font-family="'DejaVu Sans', 'Liberation Sans', sans-serif" font-weight="normal" font-style="normal" fill="#000" >2</text>
<text x="1450.3" y="2276.4" font-size="40" text-anchor="start" font-family="'DejaVu Sans', 'Liberation Sans', sans-serif" font-weight="normal" font-style="normal" fill="#000" >O</text>
<text x="1482.2" y="2285.0" font-size="26" text-anchor="start" font-family="'DejaVu Sans', 'Liberation Sans', sans-serif" font-weight="normal" font-style="normal" fill="#000" >2</text>
<text x="1508.6" y="2276.6" font-size="40" text-anchor="start" font-family="'DejaVu Sans', 'Liberation Sans', sans-serif" font-weight="normal" font-style="normal" fill="#000" >·</text>
<text x="1520.0" y="2263.0" font-size="28" text-anchor="start" font-family="'DejaVu Sans', 'Liberation Sans', sans-serif" font-weight="normal" font-style="normal" fill="#000" >-</text>
<text x="1757.0" y="2278.0" font-size="40" text-anchor="start" font-family="'DejaVu Sans', 'Liberation Sans', sans-serif" font-weight="normal" font-style="normal" fill="#000" >ROO</text>
<text x="1856.4" y="2278.5" font-size="40" text-anchor="start" font-family="'DejaVu Sans', 'Liberation Sans', sans-serif" font-weight="normal" font-style="normal" fill="#000" >·</text>
</svg>
</body></html>
